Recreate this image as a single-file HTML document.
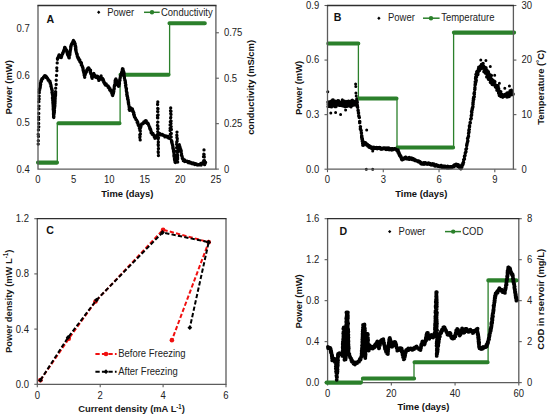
<!DOCTYPE html>
<html><head><meta charset="utf-8"><style>
html,body{margin:0;padding:0;background:#fff;}
svg{display:block;}
text{font-family:"Liberation Sans",sans-serif;}
</style></head><body>
<svg width="550" height="418" viewBox="0 0 550 418" font-family="Liberation Sans, sans-serif">
<rect width="550" height="418" fill="#fff"/>
<text transform="translate(29.70,172.50) scale(1,1.06)" font-size="9.5" text-anchor="end" fill="#222">0.4</text>
<text transform="translate(29.70,125.76) scale(1,1.06)" font-size="9.5" text-anchor="end" fill="#222">0.5</text>
<text transform="translate(29.70,79.01) scale(1,1.06)" font-size="9.5" text-anchor="end" fill="#222">0.6</text>
<text transform="translate(29.70,32.27) scale(1,1.06)" font-size="9.5" text-anchor="end" fill="#222">0.7</text>
<line x1="215.90" y1="169.10" x2="218.90" y2="169.10" stroke="#5c5c5c" stroke-width="1.1"/>
<text transform="translate(223.90,172.50) scale(1,1.06)" font-size="9.5" text-anchor="start" fill="#222">0</text>
<line x1="215.90" y1="123.66" x2="218.90" y2="123.66" stroke="#5c5c5c" stroke-width="1.1"/>
<text transform="translate(223.90,127.06) scale(1,1.06)" font-size="9.5" text-anchor="start" fill="#222">0.25</text>
<line x1="215.90" y1="78.21" x2="218.90" y2="78.21" stroke="#5c5c5c" stroke-width="1.1"/>
<text transform="translate(223.90,81.61) scale(1,1.06)" font-size="9.5" text-anchor="start" fill="#222">0.5</text>
<line x1="215.90" y1="32.77" x2="218.90" y2="32.77" stroke="#5c5c5c" stroke-width="1.1"/>
<text transform="translate(223.90,36.17) scale(1,1.06)" font-size="9.5" text-anchor="start" fill="#222">0.75</text>
<text transform="translate(38.00,183.30) scale(1,1.06)" font-size="9.5" text-anchor="middle" fill="#222">0</text>
<text transform="translate(73.58,183.30) scale(1,1.06)" font-size="9.5" text-anchor="middle" fill="#222">5</text>
<text transform="translate(109.16,183.30) scale(1,1.06)" font-size="9.5" text-anchor="middle" fill="#222">10</text>
<text transform="translate(144.74,183.30) scale(1,1.06)" font-size="9.5" text-anchor="middle" fill="#222">15</text>
<text transform="translate(180.32,183.30) scale(1,1.06)" font-size="9.5" text-anchor="middle" fill="#222">20</text>
<text transform="translate(215.90,183.30) scale(1,1.06)" font-size="9.5" text-anchor="middle" fill="#222">25</text>
<text transform="translate(127.30,196.60) scale(1,1.06)" font-size="9.4" text-anchor="middle" font-weight="bold" fill="#111">Time (days)</text>
<text transform="translate(12.30,87.30) rotate(-90) scale(1,1.06)" font-size="9.4" text-anchor="middle" font-weight="bold" fill="#111">Power (mW)</text>
<text transform="translate(253.80,87.40) rotate(-90) scale(1,1.06)" font-size="9.4" text-anchor="middle" font-weight="bold" fill="#111">conductivity (mS/cm)</text>
<text transform="translate(46.60,23.00) scale(1,1.06)" font-size="10.6" text-anchor="start" font-weight="bold" fill="#111">A</text>
<path d="M98.70 10.60L100.40 12.30L98.70 14.00L97.00 12.30Z" fill="#000"/>
<text transform="translate(107.20,15.70) scale(1,1.06)" font-size="9.5" text-anchor="start" fill="#222">Power</text>
<line x1="144.00" y1="12.30" x2="159.70" y2="12.30" stroke="#2b802b" stroke-width="1.5"/>
<path d="M152.0 12.3h0" stroke="#2b802b" stroke-width="4.40" stroke-linecap="round" fill="none"/>
<text transform="translate(161.00,15.70) scale(1,1.06)" font-size="9.5" text-anchor="start" fill="#222">Conductivity</text>
<path d="M57.3 162.6V123.3M120.1 123.3V74.7M169.6 74.7V23.3" stroke="#2b802b" stroke-width="1.3" fill="none"/>
<path d="M38 162.6H57M58.5 123.3H119.5M120.5 74.7H168.5M169.5 23.3H204.8" stroke="#2b802b" stroke-width="4.1" stroke-linecap="round" fill="none"/>
<path d="M38.2 144.1h0M38.3 140.7h0M38.4 136.4h0M38.2 134.3h0M38.4 129.9h0M38.8 126.8h0M38.7 123.4h0M38.7 119.4h0M38.7 117.1h0M38.8 113.4h0M38.9 108.8h0M39.0 106.1h0M38.9 101.7h0M39.2 99.0h0M39.2 96.1h0M39.3 92.7h0M39.2 92.0h0M39.3 91.8h0M39.6 90.0h0M39.3 89.7h0M39.8 89.6h0M39.7 88.9h0M39.7 88.6h0M39.7 88.5h0M39.9 88.5h0M40.0 88.1h0M40.2 87.7h0M40.2 86.0h0M40.3 86.8h0M40.4 85.7h0M40.4 84.7h0M40.6 84.8h0M40.4 83.5h0M40.7 84.5h0M40.4 83.8h0M40.7 82.3h0M40.7 82.8h0M41.0 81.2h0M41.0 80.7h0M41.1 80.7h0M41.4 81.4h0M41.5 81.0h0M41.7 79.2h0M42.0 78.7h0M42.1 78.9h0M42.6 78.1h0M42.5 78.9h0M42.9 78.6h0M43.4 77.3h0M43.5 77.2h0M43.8 76.9h0M44.0 76.6h0M44.5 76.0h0M44.5 76.0h0M44.7 75.6h0M45.4 76.3h0M45.6 75.8h0M45.9 77.1h0M46.1 77.5h0M46.7 77.0h0M47.1 77.9h0M47.4 78.1h0M47.6 79.1h0M47.6 78.4h0M48.2 80.3h0M48.2 79.8h0M48.7 80.0h0M48.8 80.4h0M49.1 81.2h0M49.4 81.2h0M49.9 81.1h0M50.0 82.6h0M50.0 82.2h0M50.4 82.7h0M50.2 83.4h0M50.5 83.3h0M50.5 84.2h0M50.8 84.8h0M50.9 84.8h0M50.8 86.0h0M51.2 86.1h0M51.0 86.0h0M51.2 86.6h0M51.5 88.1h0M51.3 87.6h0M51.7 88.6h0M51.8 88.6h0M51.6 89.0h0M52.0 89.4h0M51.9 90.1h0M52.0 90.5h0M52.3 90.6h0M51.9 92.3h0M52.3 92.8h0M52.2 93.2h0M52.4 92.5h0M52.4 94.0h0M52.4 93.9h0M52.3 94.1h0M52.3 94.1h0M52.5 94.9h0M52.6 95.0h0M52.7 96.5h0M52.8 97.3h0M52.8 97.2h0M52.4 98.0h0M52.5 97.7h0M52.8 98.5h0M52.7 99.6h0M52.9 99.1h0M52.7 100.4h0M52.9 100.8h0M52.8 100.3h0M53.0 101.7h0M52.8 102.2h0M53.2 102.6h0M53.2 101.8h0M53.2 103.7h0M52.9 103.2h0M53.1 104.0h0M53.2 104.4h0M53.4 104.1h0M53.0 104.8h0M53.1 105.2h0M53.5 106.9h0M53.1 106.8h0M53.2 107.0h0M53.3 107.9h0M53.4 108.0h0M53.2 108.4h0M53.2 109.2h0M53.5 109.4h0M53.2 109.5h0M53.4 110.7h0M53.6 110.8h0M53.6 111.6h0M53.5 111.7h0M53.5 112.7h0M53.5 113.1h0M53.5 112.9h0M53.6 114.1h0M53.4 114.1h0M53.6 115.3h0M53.8 114.9h0M53.8 116.1h0M53.6 116.0h0M53.5 117.0h0M53.8 117.6h0M53.9 116.8h0M53.9 116.2h0M53.6 115.8h0M53.6 114.6h0M54.1 114.0h0M53.8 113.7h0M54.2 113.3h0M53.8 113.9h0M53.9 113.5h0M54.2 113.0h0M54.4 112.2h0M54.4 110.9h0M54.4 111.2h0M54.4 110.1h0M54.5 110.9h0M54.2 109.5h0M54.5 109.9h0M54.4 108.4h0M54.4 108.6h0M54.7 107.8h0M54.6 107.4h0M54.6 107.0h0M54.5 106.6h0M54.9 106.0h0M54.9 105.2h0M54.9 105.7h0M54.9 104.8h0M54.8 104.6h0M55.0 103.3h0M54.7 103.8h0M55.1 103.0h0M54.9 102.9h0M54.8 101.7h0M54.9 101.7h0M54.9 100.7h0M55.1 101.4h0M55.0 100.6h0M55.1 100.3h0M55.2 98.9h0M55.0 98.1h0M55.2 98.2h0M55.1 97.7h0M55.2 97.9h0M55.1 97.8h0M55.3 96.7h0M55.3 96.6h0M55.5 95.7h0M55.4 95.6h0M55.6 94.6h0M55.6 95.0h0M55.5 93.4h0M55.4 93.7h0M55.6 93.6h0M55.7 92.0h0M55.5 91.6h0M55.7 88.2h0M56.2 84.4h0M56.2 80.2h0M56.5 75.4h0M56.9 70.7h0M56.8 67.8h0M57.2 62.9h0M57.5 59.3h0M57.4 58.3h0M57.8 58.1h0M57.9 57.9h0M58.4 57.1h0M58.4 56.3h0M58.4 56.7h0M58.5 56.7h0M59.0 55.0h0M59.2 55.0h0M59.4 56.0h0M59.5 56.2h0M59.9 56.8h0M60.0 57.0h0M60.7 57.3h0M60.7 56.7h0M61.0 57.5h0M61.3 57.5h0M61.4 56.3h0M61.6 56.6h0M61.6 56.6h0M62.0 54.9h0M62.3 54.5h0M62.2 55.0h0M62.5 54.3h0M62.7 53.7h0M62.7 52.8h0M62.8 53.2h0M63.3 52.5h0M63.4 51.8h0M63.4 51.4h0M63.8 50.4h0M63.8 50.3h0M64.1 50.0h0M64.1 49.6h0M64.4 49.8h0M64.4 49.5h0M64.5 48.1h0M64.6 47.4h0M65.1 48.0h0M65.0 47.5h0M65.3 48.8h0M65.7 49.3h0M65.8 48.7h0M65.9 49.2h0M66.1 50.2h0M66.1 50.1h0M66.6 50.2h0M66.8 52.0h0M67.0 51.6h0M67.0 52.3h0M67.2 53.4h0M67.4 52.7h0M67.7 53.4h0M67.7 54.3h0M67.6 54.7h0M68.0 54.7h0M68.1 55.1h0M68.1 55.6h0M68.2 56.0h0M68.7 56.3h0M68.8 57.6h0M69.1 56.7h0M69.2 57.9h0M69.0 57.0h0M69.1 56.1h0M69.3 57.0h0M69.3 56.5h0M69.6 54.9h0M69.7 55.2h0M69.8 54.9h0M69.8 53.9h0M69.9 54.4h0M70.0 53.1h0M70.1 52.8h0M69.8 51.6h0M69.9 51.4h0M70.0 51.4h0M70.3 51.1h0M70.3 50.8h0M70.3 50.1h0M70.6 49.5h0M70.4 49.9h0M70.7 48.6h0M70.7 48.4h0M70.8 47.4h0M70.6 47.0h0M71.1 46.4h0M71.0 46.1h0M71.0 45.6h0M71.3 45.2h0M71.3 44.6h0M71.6 44.8h0M71.7 43.7h0M72.1 43.9h0M72.4 42.9h0M72.5 43.0h0M72.5 43.5h0M72.8 41.7h0M73.2 41.4h0M73.5 41.3h0M73.4 40.4h0M73.9 41.2h0M74.2 41.9h0M74.5 42.1h0M74.3 42.4h0M74.8 43.4h0M74.8 43.0h0M75.2 44.9h0M75.2 43.8h0M75.0 44.3h0M75.1 44.7h0M75.1 46.1h0M75.6 45.9h0M75.7 46.8h0M75.6 47.9h0M75.8 47.0h0M75.5 48.3h0M75.9 47.9h0M75.6 49.6h0M75.6 49.3h0M75.7 50.2h0M76.1 49.9h0M76.0 51.2h0M76.2 51.4h0M76.2 51.5h0M76.1 51.8h0M76.4 52.6h0M76.3 52.5h0M76.6 53.7h0M76.8 53.7h0M76.8 53.8h0M77.1 54.0h0M77.1 55.6h0M77.3 55.0h0M77.3 56.6h0M77.6 57.1h0M77.9 56.8h0M78.0 57.7h0M77.9 57.6h0M77.9 58.0h0M78.6 58.0h0M78.7 58.4h0M78.7 59.6h0M79.1 59.1h0M79.3 60.4h0M79.8 59.8h0M79.9 61.7h0M80.1 61.5h0M80.4 62.3h0M80.7 62.8h0M80.9 62.3h0M81.0 62.5h0M81.5 63.0h0M81.3 64.9h0M81.6 65.2h0M81.8 64.9h0M82.0 66.0h0M82.3 66.2h0M82.5 67.0h0M82.4 67.0h0M82.6 66.7h0M82.9 68.0h0M83.0 67.8h0M82.9 68.7h0M83.1 68.5h0M83.1 69.7h0M83.1 70.2h0M83.5 70.5h0M83.6 71.3h0M83.4 71.3h0M83.9 71.8h0M83.7 71.8h0M83.7 72.4h0M84.1 73.8h0M84.2 74.6h0M84.1 75.0h0M84.2 74.6h0M84.5 75.9h0M84.5 75.7h0M84.5 76.0h0M84.7 77.3h0M84.6 76.8h0M84.6 75.1h0M85.1 74.9h0M85.1 75.0h0M85.0 74.7h0M85.3 73.8h0M85.5 73.8h0M85.8 72.7h0M85.7 72.2h0M86.0 71.4h0M86.1 72.1h0M86.5 72.0h0M86.9 71.4h0M86.8 69.8h0M87.0 69.8h0M87.3 69.5h0M87.5 69.6h0M87.7 68.5h0M88.2 68.6h0M88.3 68.0h0M88.8 68.0h0M88.9 69.1h0M89.4 68.9h0M89.5 69.3h0M90.2 70.0h0M90.4 71.0h0M90.6 70.2h0M90.3 70.7h0M90.5 71.6h0M90.4 72.4h0M90.6 72.5h0M90.8 73.7h0M90.9 73.3h0M90.9 74.0h0M91.3 74.8h0M91.5 75.5h0M91.3 74.9h0M91.7 76.3h0M91.7 76.9h0M91.8 76.4h0M91.7 76.4h0M92.1 78.3h0M92.3 78.0h0M92.3 78.3h0M92.6 77.4h0M92.6 76.8h0M92.6 75.8h0M93.0 76.7h0M93.1 75.3h0M93.2 74.9h0M93.6 74.5h0M93.8 73.5h0M93.8 74.5h0M94.1 75.4h0M94.6 75.9h0M94.8 74.8h0M95.1 76.0h0M95.3 75.9h0M95.7 77.3h0M95.9 76.7h0M96.5 76.3h0M97.3 76.8h0M97.4 76.1h0M97.7 76.5h0M97.7 78.0h0M97.9 77.5h0M98.4 79.0h0M98.3 78.6h0M98.6 78.6h0M98.8 80.4h0M98.9 79.7h0M99.2 79.0h0M99.6 79.6h0M100.0 79.0h0M100.3 77.6h0M100.2 78.7h0M100.4 77.1h0M100.8 76.7h0M101.1 75.9h0M101.2 77.8h0M101.4 78.1h0M101.7 78.7h0M102.2 78.6h0M102.2 78.1h0M102.7 78.7h0M102.7 80.2h0M103.3 79.4h0M103.5 80.6h0M103.5 80.4h0M103.7 82.2h0M103.9 81.3h0M104.0 81.7h0M104.4 83.4h0M104.5 82.7h0M105.1 84.5h0M105.3 83.7h0M105.4 85.0h0M105.9 84.9h0M106.2 84.0h0M106.6 85.4h0M107.2 85.3h0M107.3 85.6h0M107.6 86.0h0M108.0 85.8h0M108.2 87.4h0M108.6 86.6h0M108.9 88.0h0M108.8 87.5h0M109.1 87.5h0M109.7 88.4h0M109.9 88.3h0M109.7 89.9h0M110.3 90.5h0M110.5 90.1h0M110.8 89.8h0M111.0 90.7h0M111.0 91.4h0M111.3 91.7h0M111.5 91.8h0M111.6 92.7h0M112.1 93.7h0M112.2 94.0h0M112.1 94.6h0M112.3 93.7h0M112.5 95.1h0M112.6 95.4h0M112.7 95.5h0M112.9 94.3h0M113.0 94.5h0M113.4 93.5h0M113.2 93.2h0M113.2 92.4h0M113.6 92.5h0M113.4 92.2h0M113.6 92.0h0M113.7 90.3h0M113.9 90.9h0M113.9 90.4h0M114.1 89.2h0M114.0 89.0h0M114.1 88.3h0M114.3 88.7h0M114.3 87.0h0M114.2 87.0h0M114.5 86.1h0M114.3 86.0h0M114.5 85.1h0M114.7 86.0h0M114.8 85.3h0M115.0 85.0h0M115.1 83.9h0M115.0 83.0h0M115.2 82.9h0M115.1 83.3h0M115.1 81.7h0M115.4 81.9h0M115.1 80.6h0M115.3 80.1h0M115.6 79.9h0M115.4 79.8h0M115.6 79.4h0M115.8 79.4h0M115.9 78.9h0M116.4 80.3h0M116.1 80.3h0M116.7 81.6h0M116.6 80.5h0M117.0 81.5h0M117.4 82.6h0M117.3 82.4h0M117.6 83.6h0M117.6 83.3h0M117.7 84.1h0M117.8 85.1h0M118.2 85.0h0M118.2 84.9h0M118.5 86.3h0M118.7 85.9h0M119.0 86.0h0M118.9 84.8h0M118.9 85.5h0M118.9 84.5h0M119.2 83.7h0M119.3 84.2h0M119.5 83.4h0M119.2 81.9h0M119.4 81.8h0M119.4 82.3h0M119.5 81.8h0M119.9 80.2h0M120.0 80.2h0M119.7 79.4h0M119.7 79.4h0M120.0 79.6h0M120.3 77.8h0M120.2 77.9h0M120.2 77.2h0M120.3 77.5h0M120.5 76.1h0M120.5 76.2h0M120.8 75.4h0M121.0 74.9h0M121.1 75.1h0M121.0 74.9h0M121.2 74.1h0M121.4 73.8h0M121.5 72.4h0M121.8 73.2h0M121.7 72.3h0M121.8 72.4h0M122.1 70.9h0M122.3 71.6h0M122.1 71.2h0M122.3 69.4h0M122.6 69.2h0M122.7 69.2h0M122.5 68.6h0M123.0 69.0h0M123.0 70.1h0M123.0 69.9h0M123.2 70.9h0M123.2 70.1h0M123.6 71.3h0M123.5 72.3h0M123.9 72.2h0M124.0 73.1h0M124.0 72.7h0M123.7 73.8h0M124.1 73.7h0M124.0 74.5h0M124.0 75.2h0M124.2 75.2h0M124.0 75.9h0M124.2 76.7h0M124.2 76.6h0M124.3 77.1h0M124.5 77.1h0M124.4 78.1h0M124.5 78.6h0M124.5 78.5h0M124.8 80.2h0M125.0 80.0h0M124.9 79.8h0M124.9 80.6h0M125.3 80.8h0M125.4 81.8h0M125.2 81.9h0M125.5 82.2h0M125.4 83.2h0M125.3 83.2h0M125.8 84.6h0M125.7 85.2h0M125.5 85.3h0M125.9 85.0h0M125.8 86.7h0M125.8 86.8h0M125.8 87.1h0M125.9 87.3h0M126.1 88.3h0M126.3 88.2h0M126.3 88.5h0M126.5 88.7h0M126.4 89.7h0M126.4 89.3h0M126.3 90.7h0M126.4 91.3h0M126.6 92.1h0M126.8 92.2h0M126.6 91.5h0M126.8 93.1h0M127.0 92.7h0M126.7 94.4h0M127.0 94.1h0M127.1 94.0h0M127.0 95.3h0M127.1 94.9h0M127.0 96.1h0M127.4 95.8h0M127.1 96.1h0M127.6 97.0h0M127.5 98.5h0M127.6 97.7h0M127.8 97.8h0M127.6 99.3h0M127.7 98.7h0M127.9 99.6h0M128.2 99.7h0M128.2 100.6h0M128.3 101.1h0M128.3 101.4h0M128.2 102.0h0M128.6 102.3h0M128.4 102.9h0M128.4 103.2h0M128.7 104.0h0M128.7 104.1h0M128.5 104.1h0M128.8 104.8h0M128.9 105.4h0M129.1 106.4h0M129.1 107.1h0M129.1 107.1h0M129.1 107.0h0M129.4 108.1h0M129.1 109.3h0M129.4 109.3h0M129.4 108.9h0M129.7 109.5h0M129.7 110.4h0M129.9 109.2h0M130.4 108.4h0M130.9 108.3h0M130.8 108.0h0M131.1 108.6h0M131.9 109.1h0M131.9 109.0h0M132.4 109.0h0M132.5 109.1h0M132.6 110.1h0M132.6 111.1h0M132.7 111.6h0M132.9 110.6h0M133.3 111.8h0M133.4 112.2h0M133.5 112.0h0M133.6 113.2h0M133.9 112.8h0M133.6 114.4h0M134.1 114.4h0M134.1 115.1h0M134.1 115.4h0M134.4 115.1h0M134.4 116.7h0M134.6 116.7h0M134.8 117.0h0M135.1 118.1h0M135.5 118.1h0M135.3 118.3h0M135.4 118.6h0M135.9 119.6h0M136.0 119.3h0M136.2 119.7h0M136.7 120.2h0M137.2 121.1h0M137.1 121.3h0M137.1 122.3h0M137.7 122.1h0M137.8 122.4h0M137.8 122.8h0M137.9 123.8h0M138.3 124.5h0M138.2 125.0h0M138.6 124.8h0M138.7 125.3h0M138.7 125.7h0M139.1 126.6h0M139.4 126.2h0M139.5 127.6h0M139.6 128.3h0M139.4 128.4h0M139.9 130.4h0M139.8 134.7h0M139.8 137.6h0M140.2 139.9h0M140.0 136.5h0M140.4 133.9h0M140.3 130.9h0M140.7 127.6h0M140.4 128.2h0M140.6 126.8h0M141.0 126.2h0M140.6 126.6h0M140.8 125.1h0M141.2 124.6h0M141.6 124.4h0M141.7 123.8h0M142.2 124.0h0M142.6 123.6h0M142.8 123.8h0M143.5 123.3h0M143.8 121.9h0M143.8 121.8h0M144.1 122.7h0M144.8 122.3h0M145.1 120.9h0M145.6 120.7h0M146.3 120.9h0M146.3 122.4h0M146.6 122.7h0M146.9 122.6h0M147.1 123.4h0M147.6 122.9h0M147.9 123.7h0M147.9 123.4h0M148.3 123.7h0M148.6 124.6h0M148.5 125.0h0M148.7 125.5h0M149.1 126.1h0M149.2 126.3h0M149.5 127.5h0M149.6 127.9h0M149.8 127.3h0M149.9 128.9h0M150.2 128.6h0M150.4 129.8h0M150.5 129.5h0M150.7 129.4h0M150.9 130.5h0M151.0 130.9h0M151.1 131.8h0M151.1 132.7h0M151.2 132.9h0M151.3 133.2h0M151.5 132.5h0M152.0 134.0h0M152.5 134.4h0M152.9 133.3h0M153.0 133.7h0M153.5 134.6h0M153.9 135.4h0M154.3 135.5h0M154.4 135.7h0M154.2 136.8h0M154.4 135.9h0M154.9 136.7h0M154.9 136.8h0M154.9 138.3h0M155.1 137.6h0M155.8 136.8h0M156.0 137.3h0M156.3 136.9h0M156.7 135.3h0M156.7 135.8h0M157.4 134.9h0M157.5 134.4h0M157.7 131.6h0M157.6 128.6h0M157.4 125.3h0M157.7 122.2h0M157.5 117.8h0M157.5 115.5h0M157.6 111.4h0M157.7 108.5h0M157.6 104.6h0M157.8 101.9h0M157.6 104.2h0M158.0 108.7h0M157.9 111.6h0M158.1 115.0h0M157.8 117.9h0M157.9 122.1h0M157.9 126.1h0M158.1 128.7h0M158.1 132.3h0M158.1 135.6h0M158.1 139.0h0M158.3 141.9h0M158.3 145.5h0M158.4 148.5h0M158.3 152.5h0M158.4 155.5h0M158.2 151.7h0M158.4 148.8h0M158.2 144.5h0M158.4 142.1h0M158.5 137.8h0M158.5 134.3h0M159.2 134.4h0M159.3 134.2h0M160.1 133.7h0M160.7 134.3h0M160.9 134.9h0M161.6 134.9h0M162.2 135.0h0M162.4 134.5h0M162.9 135.2h0M163.3 135.4h0M163.5 135.2h0M164.0 135.5h0M164.7 136.5h0M164.9 136.9h0M165.6 136.0h0M166.1 136.3h0M166.7 136.2h0M166.9 136.5h0M167.7 137.4h0M168.0 136.4h0M168.5 137.6h0M168.8 138.2h0M169.7 138.4h0M170.1 138.2h0M170.3 134.2h0M170.1 130.6h0M170.1 128.3h0M170.1 124.9h0M170.3 121.7h0M170.6 118.0h0M170.7 113.6h0M170.5 110.8h0M170.7 107.9h0M171.0 111.2h0M171.0 114.4h0M170.8 117.3h0M171.1 121.1h0M171.0 123.6h0M171.2 126.6h0M171.4 129.5h0M171.3 133.5h0M171.2 136.9h0M171.4 140.7h0M171.7 140.6h0M171.8 141.5h0M171.6 141.9h0M172.0 142.6h0M172.1 142.1h0M171.9 143.0h0M172.0 143.6h0M172.3 144.2h0M172.3 143.8h0M172.7 144.8h0M172.5 145.1h0M172.6 145.7h0M172.7 145.6h0M173.0 147.0h0M173.0 146.5h0M172.8 147.6h0M173.2 148.0h0M172.9 148.5h0M173.2 148.4h0M173.3 149.0h0M173.4 149.9h0M173.6 149.4h0M173.5 151.2h0M173.6 151.0h0M173.7 150.6h0M173.8 152.0h0M173.7 152.0h0M173.8 152.1h0M173.8 152.8h0M174.1 154.1h0M174.0 154.5h0M174.0 154.6h0M173.9 155.6h0M174.3 155.9h0M174.0 156.4h0M174.1 156.5h0M174.3 156.1h0M174.4 157.9h0M174.5 157.4h0M174.7 157.9h0M174.8 158.4h0M174.5 159.8h0M174.5 159.1h0M174.9 159.3h0M174.9 161.0h0M175.0 160.6h0M175.1 161.8h0M175.1 162.0h0M175.0 162.1h0M175.4 162.5h0M175.1 160.8h0M175.3 161.3h0M175.4 159.9h0M175.8 159.4h0M176.0 159.5h0M176.1 159.6h0M175.8 159.1h0M176.1 157.8h0M176.0 155.2h0M176.4 151.2h0M176.6 147.7h0M176.6 144.2h0M176.7 142.1h0M176.9 137.6h0M176.8 135.1h0M177.0 132.1h0M176.9 135.5h0M177.3 138.8h0M177.2 141.0h0M177.2 145.3h0M177.2 147.8h0M177.6 152.4h0M177.7 155.8h0M177.6 159.2h0M177.7 162.1h0M177.7 158.0h0M177.6 155.2h0M177.9 151.8h0M178.3 149.3h0M178.3 146.6h0M178.5 146.1h0M179.3 144.6h0M179.1 145.9h0M179.7 146.3h0M179.7 146.4h0M179.8 146.3h0M180.1 147.5h0M180.2 148.3h0M180.4 148.8h0M180.5 149.0h0M180.9 149.7h0M180.8 149.7h0M180.8 150.4h0M180.7 150.9h0M181.0 150.1h0M181.3 151.0h0M180.9 151.3h0M181.0 151.9h0M181.4 153.4h0M181.4 153.7h0M181.6 153.9h0M181.4 153.7h0M181.4 154.6h0M181.5 155.4h0M181.6 155.6h0M181.9 156.1h0M181.8 155.9h0M182.2 156.3h0M182.3 157.9h0M182.3 158.3h0M182.5 158.7h0M182.6 158.9h0M182.8 158.4h0M182.9 159.5h0M183.0 160.0h0M183.3 160.7h0M183.7 159.8h0M184.1 160.7h0M184.6 159.8h0M184.7 161.5h0M185.3 161.2h0M185.8 160.9h0M186.2 161.3h0M186.9 161.4h0M187.2 161.2h0M187.6 161.8h0M188.0 162.4h0M188.1 162.7h0M188.8 161.7h0M189.2 161.6h0M189.5 162.9h0M190.2 163.1h0M190.4 162.1h0M190.9 162.9h0M191.5 162.7h0M192.0 163.3h0M192.2 163.8h0M192.6 163.7h0M193.1 163.0h0M193.6 163.8h0M194.1 163.7h0M194.7 164.5h0M194.8 163.3h0M195.6 164.1h0M195.7 163.8h0M196.4 163.9h0M196.7 164.8h0M197.1 164.8h0M197.9 165.0h0M198.3 164.7h0M198.6 164.7h0M199.3 164.5h0M199.7 164.8h0M200.1 164.6h0M200.9 163.5h0M201.1 165.0h0M201.5 164.5h0M202.2 163.0h0M202.8 162.7h0M203.4 162.9h0M203.7 160.7h0M203.5 156.7h0M203.8 154.2h0M204.0 149.9h0M204.1 154.5h0M204.3 157.0h0M204.5 160.7h0M204.6 164.7h0M204.8 163.6h0M205.3 162.8h0M205.2 163.4h0M205.6 162.5h0" stroke="#000" stroke-width="3.30" stroke-linecap="round" fill="none"/>
<path d="M38 5.5V169.1H215.9V5.5" fill="none" stroke="#5c5c5c" stroke-width="1.3"/>
<path d="M37.4 5.5H216.5" fill="none" stroke="#2e2e2e" stroke-width="1.3"/>
<line x1="324.50" y1="169.20" x2="327.50" y2="169.20" stroke="#5c5c5c" stroke-width="1.1"/>
<text transform="translate(319.20,172.60) scale(1,1.06)" font-size="9.5" text-anchor="end" fill="#222">0.0</text>
<line x1="324.50" y1="114.63" x2="327.50" y2="114.63" stroke="#5c5c5c" stroke-width="1.1"/>
<text transform="translate(319.20,118.03) scale(1,1.06)" font-size="9.5" text-anchor="end" fill="#222">0.3</text>
<line x1="324.50" y1="60.07" x2="327.50" y2="60.07" stroke="#5c5c5c" stroke-width="1.1"/>
<text transform="translate(319.20,63.47) scale(1,1.06)" font-size="9.5" text-anchor="end" fill="#222">0.6</text>
<line x1="324.50" y1="5.50" x2="327.50" y2="5.50" stroke="#5c5c5c" stroke-width="1.1"/>
<text transform="translate(319.20,8.90) scale(1,1.06)" font-size="9.5" text-anchor="end" fill="#222">0.9</text>
<line x1="513.40" y1="169.20" x2="516.40" y2="169.20" stroke="#5c5c5c" stroke-width="1.1"/>
<text transform="translate(521.40,172.60) scale(1,1.06)" font-size="9.5" text-anchor="start" fill="#222">0</text>
<line x1="513.40" y1="114.63" x2="516.40" y2="114.63" stroke="#5c5c5c" stroke-width="1.1"/>
<text transform="translate(521.40,118.03) scale(1,1.06)" font-size="9.5" text-anchor="start" fill="#222">10</text>
<line x1="513.40" y1="60.07" x2="516.40" y2="60.07" stroke="#5c5c5c" stroke-width="1.1"/>
<text transform="translate(521.40,63.47) scale(1,1.06)" font-size="9.5" text-anchor="start" fill="#222">20</text>
<line x1="513.40" y1="5.50" x2="516.40" y2="5.50" stroke="#5c5c5c" stroke-width="1.1"/>
<text transform="translate(521.40,8.90) scale(1,1.06)" font-size="9.5" text-anchor="start" fill="#222">30</text>
<line x1="327.50" y1="169.20" x2="327.50" y2="172.20" stroke="#5c5c5c" stroke-width="1.1"/>
<text transform="translate(327.50,183.40) scale(1,1.06)" font-size="9.5" text-anchor="middle" fill="#222">0</text>
<line x1="383.27" y1="169.20" x2="383.27" y2="172.20" stroke="#5c5c5c" stroke-width="1.1"/>
<text transform="translate(383.27,183.40) scale(1,1.06)" font-size="9.5" text-anchor="middle" fill="#222">3</text>
<line x1="439.04" y1="169.20" x2="439.04" y2="172.20" stroke="#5c5c5c" stroke-width="1.1"/>
<text transform="translate(439.04,183.40) scale(1,1.06)" font-size="9.5" text-anchor="middle" fill="#222">6</text>
<line x1="494.81" y1="169.20" x2="494.81" y2="172.20" stroke="#5c5c5c" stroke-width="1.1"/>
<text transform="translate(494.81,183.40) scale(1,1.06)" font-size="9.5" text-anchor="middle" fill="#222">9</text>
<text transform="translate(421.30,196.60) scale(1,1.06)" font-size="9.4" text-anchor="middle" font-weight="bold" fill="#111">Time (days)</text>
<text transform="translate(301.80,87.95) rotate(-90) scale(1,1.06)" font-size="9.4" text-anchor="middle" font-weight="bold" fill="#111">Power (mW)</text>
<text transform="translate(544.20,87.30) rotate(-90) scale(1,1.06)" font-size="9.4" text-anchor="middle" font-weight="bold" fill="#111">Temperature (&#730;C)</text>
<text transform="translate(333.80,21.20) scale(1,1.06)" font-size="10.6" text-anchor="start" font-weight="bold" fill="#111">B</text>
<path d="M378.90 16.50L380.60 18.20L378.90 19.90L377.20 18.20Z" fill="#000"/>
<text transform="translate(388.00,21.00) scale(1,1.06)" font-size="9.5" text-anchor="start" fill="#222">Power</text>
<line x1="423.00" y1="18.20" x2="439.60" y2="18.20" stroke="#2b802b" stroke-width="1.5"/>
<path d="M431.0 18.2h0" stroke="#2b802b" stroke-width="4.40" stroke-linecap="round" fill="none"/>
<text transform="translate(441.20,21.00) scale(1,1.06)" font-size="9.5" text-anchor="start" fill="#222">Temperature</text>
<path d="M358.4 43.5V98.5M397 98.5V147.5M453.6 147.5V32.6" stroke="#2b802b" stroke-width="1.3" fill="none"/>
<path d="M328.3 43.5H358.3M358.7 98.5H396.5M397.5 147.5H453.1M453.9 32.6H514.1" stroke="#2b802b" stroke-width="4.1" stroke-linecap="round" fill="none"/>
<path d="M327.8 101.9h0M327.9 106.4h0M328.0 104.0h0M328.1 101.9h0M328.3 102.9h0M328.4 103.9h0M328.5 104.5h0M328.6 102.1h0M328.7 102.8h0M328.8 104.1h0M328.9 103.8h0M329.1 106.5h0M329.2 104.7h0M329.3 104.8h0M329.4 101.9h0M329.5 101.9h0M329.6 101.7h0M329.8 103.3h0M329.9 104.4h0M330.0 106.1h0M330.1 104.9h0M330.2 102.1h0M330.3 103.3h0M330.4 106.8h0M330.6 103.6h0M330.7 104.2h0M330.8 101.2h0M330.9 101.2h0M331.0 102.6h0M331.1 103.0h0M331.2 104.2h0M331.4 103.2h0M331.5 100.7h0M331.6 106.9h0M331.7 104.0h0M331.8 100.7h0M331.9 106.1h0M332.1 104.7h0M332.2 103.1h0M332.3 103.4h0M332.4 104.2h0M332.5 99.7h0M332.6 105.0h0M332.7 103.8h0M332.9 104.5h0M333.0 102.5h0M333.1 102.4h0M333.2 105.9h0M333.3 99.7h0M333.4 105.3h0M333.6 105.3h0M333.7 100.8h0M333.8 103.0h0M333.9 102.3h0M334.0 102.5h0M334.1 101.4h0M334.2 101.2h0M334.4 103.5h0M334.5 102.9h0M334.6 104.3h0M334.7 104.6h0M334.8 102.5h0M334.9 106.7h0M335.0 106.0h0M335.2 100.9h0M335.3 103.1h0M335.4 102.8h0M335.5 104.1h0M335.6 101.8h0M335.7 105.9h0M335.9 102.8h0M336.0 106.8h0M336.1 102.2h0M336.2 106.5h0M336.3 104.0h0M336.4 104.9h0M336.5 103.9h0M336.7 104.0h0M336.8 101.8h0M336.9 103.1h0M337.0 102.2h0M337.1 103.0h0M337.2 102.8h0M337.3 104.6h0M337.5 103.8h0M337.6 102.9h0M337.7 100.6h0M337.8 104.9h0M337.9 102.2h0M338.0 102.8h0M338.2 104.1h0M338.3 103.3h0M338.4 103.5h0M338.5 103.5h0M338.6 100.4h0M338.7 104.5h0M338.8 103.0h0M339.0 104.6h0M339.1 103.5h0M339.2 102.7h0M339.3 105.6h0M339.4 103.6h0M339.5 105.0h0M339.6 104.3h0M339.8 104.6h0M339.9 105.0h0M340.0 104.3h0M340.1 101.9h0M340.2 103.0h0M340.3 105.5h0M340.4 103.1h0M340.6 102.8h0M340.7 103.4h0M340.8 104.9h0M340.9 102.0h0M341.0 103.3h0M341.1 102.6h0M341.3 102.3h0M341.4 104.5h0M341.5 102.5h0M341.6 103.4h0M341.7 103.9h0M341.8 104.1h0M341.9 104.1h0M342.1 104.5h0M342.2 102.2h0M342.3 99.7h0M342.4 104.7h0M342.5 106.0h0M342.6 102.7h0M342.8 103.4h0M342.9 104.7h0M343.0 102.1h0M343.1 103.3h0M343.2 102.7h0M343.3 104.2h0M343.4 103.4h0M343.6 106.0h0M343.7 101.9h0M343.8 102.2h0M343.9 101.1h0M344.0 103.7h0M344.1 103.2h0M344.2 103.0h0M344.4 104.3h0M344.5 101.8h0M344.6 101.1h0M344.7 106.7h0M344.8 103.4h0M344.9 101.8h0M345.1 105.0h0M345.2 103.6h0M345.3 101.9h0M345.4 103.9h0M345.5 105.0h0M345.6 104.5h0M345.7 103.2h0M345.9 106.0h0M346.0 102.0h0M346.1 103.1h0M346.2 104.1h0M346.3 101.8h0M346.4 104.4h0M346.5 104.0h0M346.7 104.9h0M346.8 103.9h0M346.9 106.5h0M347.0 101.2h0M347.1 102.8h0M347.2 102.5h0M347.4 103.4h0M347.5 104.4h0M347.6 101.7h0M347.7 104.9h0M347.8 105.1h0M347.9 103.6h0M348.0 101.2h0M348.2 104.4h0M348.3 104.0h0M348.4 101.9h0M348.5 102.3h0M348.6 102.5h0M348.7 101.1h0M348.8 103.9h0M349.0 105.1h0M349.1 103.9h0M349.2 102.3h0M349.3 103.3h0M349.4 103.3h0M349.5 106.3h0M349.7 102.7h0M349.8 104.1h0M349.9 102.9h0M350.0 105.2h0M350.1 102.1h0M350.2 104.2h0M350.3 102.8h0M350.5 104.3h0M350.6 101.1h0M350.7 103.2h0M350.8 105.1h0M350.9 104.4h0M351.0 101.7h0M351.1 106.9h0M351.3 104.1h0M351.4 103.0h0M351.5 102.8h0M351.6 101.9h0M351.7 105.8h0M351.8 105.4h0M351.9 105.7h0M352.1 101.8h0M352.2 100.4h0M352.3 100.0h0M352.4 101.0h0M352.5 102.5h0M352.6 101.5h0M352.8 100.7h0M352.9 104.1h0M353.0 102.2h0M353.1 103.8h0M353.2 105.2h0M353.3 102.0h0M353.4 102.5h0M353.6 105.3h0M353.7 100.9h0M353.8 102.5h0M353.9 101.5h0M354.0 102.9h0M354.1 102.3h0M354.2 103.6h0M354.4 102.5h0M354.5 105.1h0M354.6 102.0h0M354.7 103.1h0M354.8 104.3h0M354.9 101.9h0M355.1 102.3h0M355.2 103.1h0M355.3 102.6h0M355.4 104.5h0M355.5 102.1h0M355.6 100.9h0M355.7 104.3h0M355.9 101.9h0M356.0 102.2h0M356.1 102.8h0M356.2 105.0h0M356.3 104.5h0M356.4 103.5h0M356.6 103.7h0M356.7 102.6h0M356.8 106.0h0M356.9 104.9h0M357.0 101.9h0M357.1 104.7h0M357.2 101.1h0M357.4 102.0h0M357.5 102.2h0M357.6 105.8h0M327.8 91.8h0M330.8 113.0h0M335.6 112.4h0M340.6 114.4h0M345.6 110.0h0M355.6 84.0h0M355.8 86.5h0M355.9 93.0h0M356.2 96.0h0M356.6 99.0h0M366.7 130.0h0M372.7 151.0h0M366.3 169.3h0M372.7 169.3h0M480.8 60.1h0M485.9 60.5h0M490.3 66.5h0M494.7 75.2h0M499.4 83.3h0M504.8 88.3h0M509.4 85.9h0" stroke="#000" stroke-width="3.00" stroke-linecap="round" fill="none"/>
<path d="M356.9 104.6h0M357.6 107.2h0M358.1 110.4h0M358.5 112.9h0M358.8 115.9h0M359.3 117.5h0M359.7 121.5h0M359.7 122.8h0M360.4 126.8h0M360.4 129.0h0M361.1 130.6h0M361.4 133.1h0M361.8 136.0h0M361.7 135.8h0M361.8 137.3h0M361.7 136.5h0M361.7 137.4h0M362.3 138.7h0M362.3 139.1h0M362.0 138.9h0M362.5 140.2h0M362.6 140.6h0M362.5 141.0h0M362.7 140.8h0M362.3 141.1h0M362.4 141.4h0M362.8 141.9h0M362.7 142.0h0M362.8 143.2h0M363.0 144.4h0M362.8 143.7h0M362.9 145.3h0M363.3 145.3h0M363.7 143.8h0M364.1 144.0h0M364.3 143.8h0M364.7 143.3h0M364.8 142.9h0M365.4 142.9h0M365.4 143.1h0M366.0 143.4h0M366.3 144.6h0M366.7 144.9h0M366.9 145.3h0M367.5 145.1h0M367.4 144.6h0M368.1 146.3h0M368.4 146.0h0M368.8 145.5h0M369.2 147.3h0M369.5 146.9h0M370.3 147.2h0M370.4 146.6h0M371.1 148.1h0M371.6 147.4h0M372.0 148.3h0M372.2 148.5h0M372.7 147.5h0M372.9 148.4h0M373.8 147.2h0M373.9 147.7h0M374.4 148.5h0M374.8 148.3h0M375.5 147.8h0M376.1 148.0h0M376.4 148.4h0M376.7 147.6h0M377.5 148.6h0M377.7 148.2h0M378.2 147.8h0M378.4 148.3h0M379.3 147.5h0M379.8 148.0h0M380.2 148.8h0M380.3 147.8h0M381.1 149.2h0M381.5 148.5h0M381.8 148.9h0M382.4 149.0h0M382.6 149.0h0M383.4 148.6h0M383.3 148.0h0M384.1 148.4h0M384.7 148.8h0M385.1 148.0h0M385.4 149.0h0M386.1 149.4h0M386.2 148.7h0M387.0 148.0h0M387.0 148.2h0M387.8 148.5h0M388.2 149.4h0M388.7 148.0h0M389.1 149.4h0M389.6 149.6h0M390.1 149.2h0M390.6 149.1h0M390.7 148.7h0M391.6 148.8h0M391.8 149.9h0M392.4 149.8h0M392.8 149.3h0M393.0 148.9h0M393.5 149.5h0M394.2 148.8h0M394.7 148.9h0M395.1 148.8h0M395.6 149.1h0M396.3 149.6h0M396.7 149.8h0M396.9 150.5h0M397.4 150.0h0M397.8 151.3h0M398.0 150.1h0M398.0 152.2h0M398.4 151.6h0M398.2 151.9h0M398.7 152.2h0M399.0 152.8h0M399.1 154.0h0M399.0 154.1h0M399.4 154.1h0M399.5 155.2h0M400.0 155.0h0M399.8 155.8h0M400.3 156.2h0M400.7 156.1h0M400.8 156.9h0M400.8 157.3h0M401.2 157.6h0M401.6 159.1h0M402.0 158.1h0M401.9 159.8h0M402.2 158.1h0M402.6 159.6h0M403.3 158.5h0M403.5 159.2h0M404.5 158.7h0M404.8 158.4h0M405.0 157.5h0M405.4 157.4h0M405.9 157.3h0M406.2 158.8h0M407.1 158.8h0M407.3 158.2h0M407.9 158.9h0M408.2 158.4h0M408.8 159.1h0M409.2 157.6h0M409.6 159.3h0M410.0 158.9h0M410.4 158.3h0M411.2 158.1h0M411.5 159.0h0M412.0 159.4h0M412.7 158.6h0M413.1 159.6h0M413.4 159.5h0M413.8 159.9h0M414.3 159.2h0M414.8 160.1h0M415.1 160.6h0M415.4 160.1h0M416.0 160.3h0M416.3 160.6h0M416.6 160.5h0M417.3 160.9h0M417.9 161.6h0M418.0 161.6h0M418.6 161.0h0M418.7 162.0h0M419.2 161.2h0M419.6 161.5h0M420.0 161.9h0M420.5 162.3h0M421.0 163.7h0M421.5 163.0h0M421.7 163.9h0M422.2 163.3h0M422.3 164.0h0M423.1 163.2h0M423.5 162.7h0M424.0 164.2h0M424.6 162.8h0M424.9 164.0h0M425.1 163.7h0M425.5 163.0h0M425.9 163.1h0M426.8 163.7h0M427.2 164.3h0M427.4 164.1h0M428.2 163.8h0M428.4 163.0h0M428.9 163.5h0M429.2 164.1h0M429.9 163.5h0M430.0 164.0h0M430.8 164.4h0M431.2 164.9h0M431.7 164.2h0M432.1 164.7h0M432.4 163.9h0M432.8 165.0h0M433.5 164.3h0M433.8 164.0h0M434.3 164.8h0M434.8 165.6h0M434.9 165.9h0M435.4 166.0h0M436.3 164.8h0M436.3 164.8h0M437.1 166.0h0M437.6 166.1h0M437.7 166.2h0M438.1 165.5h0M438.6 166.2h0M439.0 166.1h0M439.6 166.6h0M440.0 166.0h0M440.5 166.2h0M441.0 165.6h0M441.2 165.6h0M441.7 167.2h0M442.3 166.9h0M442.9 167.3h0M443.0 166.3h0M443.6 166.4h0M444.1 166.2h0M444.4 167.4h0M444.8 166.4h0M445.5 166.5h0M446.1 167.3h0M446.6 167.1h0M446.8 166.7h0M447.1 167.9h0M447.6 166.4h0M448.5 167.2h0M448.7 167.9h0M449.3 166.8h0M449.5 167.5h0M450.2 166.7h0M450.5 167.3h0M450.8 167.8h0M451.6 166.7h0M452.0 167.5h0M452.2 166.9h0M453.0 166.8h0M453.3 166.1h0M453.9 166.7h0M454.0 165.3h0M454.3 165.0h0M454.8 165.1h0M455.1 165.1h0M455.4 164.8h0M456.0 164.3h0M456.4 165.6h0M456.9 165.3h0M457.0 164.6h0M457.3 165.5h0M457.8 165.5h0M458.2 164.8h0M458.1 166.4h0M458.8 166.1h0M458.7 165.8h0M459.4 167.4h0M459.5 167.6h0M460.2 166.6h0M460.5 168.6h0M461.0 168.7h0M461.2 168.5h0M461.1 168.4h0M461.6 167.3h0M461.4 166.4h0M461.7 167.3h0M461.9 166.8h0M461.9 165.3h0M462.1 164.9h0M462.6 164.6h0M462.5 164.8h0M462.7 164.7h0M463.0 164.2h0M463.0 163.0h0M463.1 163.6h0M463.5 162.4h0M463.7 159.8h0M464.4 159.0h0M464.5 156.4h0M465.0 155.6h0M465.3 153.1h0M465.9 151.7h0M466.0 149.2h0M466.5 148.6h0M466.7 145.6h0M466.9 144.2h0M467.4 142.5h0M467.8 140.9h0M467.6 138.6h0M468.0 137.8h0M468.5 136.3h0M468.6 133.4h0M469.0 132.0h0M468.9 130.2h0M469.3 129.3h0M469.5 126.8h0M469.5 125.7h0M470.2 123.1h0M470.2 122.5h0M470.7 119.3h0M471.2 118.4h0M471.3 115.7h0M471.6 114.9h0M471.6 114.9h0M471.8 112.4h0M471.6 111.5h0M471.7 111.7h0M472.1 110.0h0M472.2 109.0h0M472.4 108.4h0M472.5 107.7h0M472.9 106.7h0M473.0 104.4h0M473.0 104.6h0M473.0 103.1h0M473.1 102.6h0M473.3 100.8h0M473.7 99.3h0M473.4 98.9h0M473.7 97.3h0M473.8 97.5h0M474.2 96.8h0M474.3 94.2h0M474.2 93.9h0M474.1 93.5h0M474.4 92.5h0M474.8 89.6h0M474.9 87.9h0M475.1 85.1h0M475.4 83.2h0M475.4 83.9h0M475.9 81.7h0M475.3 81.8h0M475.6 78.8h0M476.2 80.2h0M475.8 78.1h0M476.5 77.1h0M476.0 74.5h0M475.7 77.3h0M476.9 73.8h0M476.8 73.5h0M477.1 73.9h0M477.2 74.2h0M476.5 74.0h0M477.5 71.3h0M476.8 71.9h0M477.8 74.6h0M477.6 73.7h0M478.1 70.7h0M477.9 72.8h0M478.1 71.0h0M478.6 69.0h0M478.4 70.2h0M478.7 70.6h0M478.4 69.3h0M478.8 67.2h0M479.4 70.6h0M479.3 67.8h0M479.4 67.8h0M479.8 66.7h0M481.0 66.9h0M480.3 68.1h0M480.4 66.4h0M481.5 68.5h0M481.5 64.6h0M483.0 63.6h0M482.3 66.9h0M483.6 66.3h0M482.6 66.2h0M483.1 65.6h0M484.3 68.2h0M484.3 67.1h0M484.5 71.2h0M484.0 71.8h0M484.3 70.7h0M485.8 69.5h0M486.1 69.3h0M485.4 73.1h0M485.9 67.8h0M485.2 71.3h0M485.8 68.6h0M486.9 70.6h0M487.3 71.2h0M486.1 71.9h0M487.5 75.4h0M487.2 71.5h0M487.4 71.9h0M487.2 70.7h0M486.8 76.9h0M488.4 72.9h0M488.3 71.9h0M488.9 75.9h0M489.0 75.1h0M488.6 77.9h0M488.6 73.5h0M488.5 79.2h0M489.0 74.1h0M489.8 74.8h0M489.8 79.3h0M489.6 77.3h0M491.2 80.5h0M491.3 75.5h0M491.7 79.2h0M490.4 82.3h0M490.6 82.6h0M490.6 77.1h0M491.7 80.8h0M492.2 82.5h0M491.5 82.2h0M492.2 84.0h0M493.0 82.6h0M492.3 84.4h0M492.9 80.2h0M493.4 84.2h0M493.5 82.5h0M494.3 81.4h0M493.6 82.7h0M495.0 84.8h0M494.3 85.0h0M495.8 85.6h0M494.8 81.7h0M496.6 86.3h0M495.5 86.9h0M496.4 86.5h0M496.2 87.1h0M496.5 85.6h0M496.7 88.2h0M497.9 85.7h0M496.7 85.9h0M498.1 86.9h0M497.0 90.2h0M498.0 85.9h0M498.7 88.9h0M499.1 91.3h0M499.2 91.9h0M498.6 91.9h0M499.0 91.3h0M498.7 91.5h0M498.7 93.3h0M499.0 91.9h0M500.4 93.8h0M500.7 91.8h0M499.4 95.5h0M500.1 94.8h0M500.5 93.0h0M500.9 93.9h0M501.5 94.4h0M500.8 94.5h0M500.9 96.4h0M501.2 94.3h0M502.1 94.5h0M502.8 97.1h0M502.1 95.6h0M503.2 96.1h0M503.5 95.2h0M503.8 96.5h0M504.7 95.3h0M505.0 94.6h0M504.7 94.7h0M506.0 94.0h0M505.5 95.7h0M506.6 96.5h0M506.1 95.0h0M507.4 93.6h0M507.0 96.9h0M507.2 93.0h0M507.9 96.7h0M508.5 94.4h0M509.1 96.4h0M508.6 92.7h0M509.5 94.6h0M509.3 93.3h0M510.3 91.2h0M510.2 90.9h0M511.4 90.4h0M510.6 93.1h0M511.1 92.6h0M511.5 94.6h0M512.0 92.4h0M511.8 93.2h0M512.8 94.5h0M513.0 94.0h0M513.0 94.3h0" stroke="#000" stroke-width="3.60" stroke-linecap="round" fill="none"/>
<path d="M327.5 5.5V169.2H513.4V5.5" fill="none" stroke="#5c5c5c" stroke-width="1.3"/>
<path d="M326.9 5.5H514.0" fill="none" stroke="#2e2e2e" stroke-width="1.3"/>
<line x1="34.30" y1="384.30" x2="37.30" y2="384.30" stroke="#5c5c5c" stroke-width="1.1"/>
<text transform="translate(29.00,387.70) scale(1,1.06)" font-size="9.5" text-anchor="end" fill="#222">0.0</text>
<line x1="34.30" y1="329.10" x2="37.30" y2="329.10" stroke="#5c5c5c" stroke-width="1.1"/>
<text transform="translate(29.00,332.50) scale(1,1.06)" font-size="9.5" text-anchor="end" fill="#222">0.4</text>
<line x1="34.30" y1="273.90" x2="37.30" y2="273.90" stroke="#5c5c5c" stroke-width="1.1"/>
<text transform="translate(29.00,277.30) scale(1,1.06)" font-size="9.5" text-anchor="end" fill="#222">0.8</text>
<line x1="34.30" y1="218.70" x2="37.30" y2="218.70" stroke="#5c5c5c" stroke-width="1.1"/>
<text transform="translate(29.00,222.10) scale(1,1.06)" font-size="9.5" text-anchor="end" fill="#222">1.2</text>
<line x1="37.30" y1="384.30" x2="37.30" y2="387.30" stroke="#5c5c5c" stroke-width="1.1"/>
<text transform="translate(37.30,398.50) scale(1,1.06)" font-size="9.5" text-anchor="middle" fill="#222">0</text>
<line x1="100.20" y1="384.30" x2="100.20" y2="387.30" stroke="#5c5c5c" stroke-width="1.1"/>
<text transform="translate(100.20,398.50) scale(1,1.06)" font-size="9.5" text-anchor="middle" fill="#222">2</text>
<line x1="163.10" y1="384.30" x2="163.10" y2="387.30" stroke="#5c5c5c" stroke-width="1.1"/>
<text transform="translate(163.10,398.50) scale(1,1.06)" font-size="9.5" text-anchor="middle" fill="#222">4</text>
<line x1="226.00" y1="384.30" x2="226.00" y2="387.30" stroke="#5c5c5c" stroke-width="1.1"/>
<text transform="translate(226.00,398.50) scale(1,1.06)" font-size="9.5" text-anchor="middle" fill="#222">6</text>
<text transform="translate(131.5,412.2) scale(1,1.06)" font-size="9.4" text-anchor="middle" font-weight="bold" fill="#1a1a1a">Current density (mA L<tspan font-size="6" dy="-3.5">-1</tspan><tspan dy="3.5">)</tspan></text>
<text transform="translate(11.8,301.4) rotate(-90) scale(1,1.06)" font-size="9.4" text-anchor="middle" font-weight="bold" fill="#1a1a1a">Power density (mW L<tspan font-size="6" dy="-3.5">-1</tspan><tspan dy="3.5">)</tspan></text>
<text transform="translate(46.20,234.00) scale(1,1.06)" font-size="10.6" text-anchor="start" font-weight="bold" fill="#111">C</text>
<polyline points="40.44,380.16 68.75,338.76 95.48,301.50 163.10,229.74 208.70,242.16 171.91,340.14" fill="none" stroke="#f01010" stroke-width="2" stroke-dasharray="4.3 2.2"/>
<circle cx="40.44" cy="380.16" r="2.3" fill="#f01010"/>
<circle cx="68.75" cy="338.76" r="2.3" fill="#f01010"/>
<circle cx="95.48" cy="301.50" r="2.3" fill="#f01010"/>
<circle cx="163.10" cy="229.74" r="2.3" fill="#f01010"/>
<circle cx="208.70" cy="242.16" r="2.3" fill="#f01010"/>
<circle cx="171.91" cy="340.14" r="2.3" fill="#f01010"/>
<polyline points="40.44,380.16 68.12,337.38 96.43,300.12 162.47,232.50 208.70,242.16 189.83,327.72" fill="none" stroke="#000" stroke-width="2" stroke-dasharray="4.3 2.2"/>
<path d="M40.44 377.76L42.84 380.16L40.44 382.56L38.04 380.16Z" fill="#000"/>
<path d="M68.12 334.98L70.52 337.38L68.12 339.78L65.72 337.38Z" fill="#000"/>
<path d="M96.43 297.72L98.83 300.12L96.43 302.52L94.03 300.12Z" fill="#000"/>
<path d="M162.47 230.10L164.87 232.50L162.47 234.90L160.07 232.50Z" fill="#000"/>
<path d="M208.70 239.76L211.10 242.16L208.70 244.56L206.30 242.16Z" fill="#000"/>
<path d="M189.83 325.32L192.23 327.72L189.83 330.12L187.43 327.72Z" fill="#000"/>
<line x1="95.4" y1="354" x2="116.6" y2="354" stroke="#f01010" stroke-width="2" stroke-dasharray="4.3 2.2"/>
<circle cx="106" cy="354" r="2.3" fill="#f01010"/>
<text transform="translate(118.20,357.40) scale(1,1.06)" font-size="9.5" text-anchor="start" fill="#222">Before Freezing</text>
<line x1="95.4" y1="371.7" x2="116.6" y2="371.7" stroke="#000" stroke-width="2" stroke-dasharray="4.3 2.2"/>
<path d="M106 369.3L108.4 371.7L106 374.1L103.6 371.7Z" fill="#000"/>
<text transform="translate(118.20,375.10) scale(1,1.06)" font-size="9.5" text-anchor="start" fill="#222">After Freezing</text>
<path d="M37.3 218.7V384.3H226.0V218.7" fill="none" stroke="#5c5c5c" stroke-width="1.3"/>
<path d="M36.699999999999996 218.7H226.6" fill="none" stroke="#2e2e2e" stroke-width="1.3"/>
<line x1="324.60" y1="382.60" x2="327.60" y2="382.60" stroke="#5c5c5c" stroke-width="1.1"/>
<text transform="translate(319.30,386.00) scale(1,1.06)" font-size="9.5" text-anchor="end" fill="#222">0.0</text>
<line x1="324.60" y1="341.62" x2="327.60" y2="341.62" stroke="#5c5c5c" stroke-width="1.1"/>
<text transform="translate(319.30,345.02) scale(1,1.06)" font-size="9.5" text-anchor="end" fill="#222">0.4</text>
<line x1="324.60" y1="300.65" x2="327.60" y2="300.65" stroke="#5c5c5c" stroke-width="1.1"/>
<text transform="translate(319.30,304.05) scale(1,1.06)" font-size="9.5" text-anchor="end" fill="#222">0.8</text>
<line x1="324.60" y1="259.68" x2="327.60" y2="259.68" stroke="#5c5c5c" stroke-width="1.1"/>
<text transform="translate(319.30,263.07) scale(1,1.06)" font-size="9.5" text-anchor="end" fill="#222">1.2</text>
<line x1="324.60" y1="218.70" x2="327.60" y2="218.70" stroke="#5c5c5c" stroke-width="1.1"/>
<text transform="translate(319.30,222.10) scale(1,1.06)" font-size="9.5" text-anchor="end" fill="#222">1.6</text>
<line x1="518.80" y1="382.60" x2="521.80" y2="382.60" stroke="#5c5c5c" stroke-width="1.1"/>
<text transform="translate(527.00,386.00) scale(1,1.06)" font-size="9.5" text-anchor="start" fill="#222">0</text>
<line x1="518.80" y1="341.62" x2="521.80" y2="341.62" stroke="#5c5c5c" stroke-width="1.1"/>
<text transform="translate(527.00,345.02) scale(1,1.06)" font-size="9.5" text-anchor="start" fill="#222">2</text>
<line x1="518.80" y1="300.65" x2="521.80" y2="300.65" stroke="#5c5c5c" stroke-width="1.1"/>
<text transform="translate(527.00,304.05) scale(1,1.06)" font-size="9.5" text-anchor="start" fill="#222">4</text>
<line x1="518.80" y1="259.68" x2="521.80" y2="259.68" stroke="#5c5c5c" stroke-width="1.1"/>
<text transform="translate(527.00,263.07) scale(1,1.06)" font-size="9.5" text-anchor="start" fill="#222">6</text>
<line x1="518.80" y1="218.70" x2="521.80" y2="218.70" stroke="#5c5c5c" stroke-width="1.1"/>
<text transform="translate(527.00,222.10) scale(1,1.06)" font-size="9.5" text-anchor="start" fill="#222">8</text>
<line x1="327.60" y1="382.60" x2="327.60" y2="385.60" stroke="#5c5c5c" stroke-width="1.1"/>
<text transform="translate(327.60,397.40) scale(1,1.06)" font-size="9.5" text-anchor="middle" fill="#222">0</text>
<line x1="391.33" y1="382.60" x2="391.33" y2="385.60" stroke="#5c5c5c" stroke-width="1.1"/>
<text transform="translate(391.33,397.40) scale(1,1.06)" font-size="9.5" text-anchor="middle" fill="#222">20</text>
<line x1="455.07" y1="382.60" x2="455.07" y2="385.60" stroke="#5c5c5c" stroke-width="1.1"/>
<text transform="translate(455.07,397.40) scale(1,1.06)" font-size="9.5" text-anchor="middle" fill="#222">40</text>
<line x1="518.80" y1="382.60" x2="518.80" y2="385.60" stroke="#5c5c5c" stroke-width="1.1"/>
<text transform="translate(518.80,397.40) scale(1,1.06)" font-size="9.5" text-anchor="middle" fill="#222">60</text>
<text transform="translate(423.40,410.20) scale(1,1.06)" font-size="9.4" text-anchor="middle" font-weight="bold" fill="#111">Time (days)</text>
<text transform="translate(302.30,301.40) rotate(-90) scale(1,1.06)" font-size="9.4" text-anchor="middle" font-weight="bold" fill="#111">Power (mW)</text>
<text transform="translate(544.30,299.30) rotate(-90) scale(1,1.06)" font-size="9.4" text-anchor="middle" font-weight="bold" fill="#111">COD in rservoir (mg/L)</text>
<text transform="translate(339.60,235.00) scale(1,1.06)" font-size="10.6" text-anchor="start" font-weight="bold" fill="#111">D</text>
<path d="M389.70 229.90L391.40 231.60L389.70 233.30L388.00 231.60Z" fill="#000"/>
<text transform="translate(398.60,235.00) scale(1,1.06)" font-size="9.5" text-anchor="start" fill="#222">Power</text>
<line x1="445.00" y1="231.60" x2="461.00" y2="231.60" stroke="#2b802b" stroke-width="1.5"/>
<path d="M453.2 231.6h0" stroke="#2b802b" stroke-width="4.40" stroke-linecap="round" fill="none"/>
<text transform="translate(462.20,235.00) scale(1,1.06)" font-size="9.5" text-anchor="start" fill="#222">COD</text>
<path d="M327.6 218.7V382.6H518.8V218.7" fill="none" stroke="#5c5c5c" stroke-width="1.3"/>
<path d="M327.0 218.7H519.4" fill="none" stroke="#2e2e2e" stroke-width="1.3"/>
<path d="M362 382.6V378.5M414 378.5V362.3M488.1 362.3V280.4" stroke="#2b802b" stroke-width="1.3" fill="none"/>
<path d="M326.6 382.6H360.9M362.9 378.5H414.1M414.5 362.3H487.6M488.3 280.4H516.4" stroke="#2b802b" stroke-width="4.1" stroke-linecap="round" fill="none"/>
<path d="M327.9 346.9h0M328.1 348.2h0M328.7 347.4h0M329.2 348.2h0M329.4 347.7h0M330.2 347.8h0M330.0 348.6h0M330.0 348.5h0M330.7 349.0h0M330.7 348.9h0M330.6 350.4h0M330.7 351.7h0M331.2 350.9h0M330.9 352.6h0M331.4 352.2h0M331.1 351.7h0M331.6 353.5h0M331.5 353.2h0M331.5 353.8h0M331.7 354.7h0M331.7 354.7h0M331.7 355.8h0M332.2 355.3h0M332.1 356.7h0M331.9 356.2h0M332.3 356.7h0M331.9 357.0h0M332.4 358.1h0M332.0 358.3h0M332.4 359.2h0M332.2 360.4h0M332.6 359.7h0M332.8 359.4h0M333.0 359.9h0M333.5 359.7h0M334.2 358.7h0M334.1 359.3h0M334.4 359.1h0M334.6 360.1h0M334.7 361.5h0M335.3 361.3h0M335.1 362.2h0M335.5 363.0h0M335.8 362.9h0M336.0 364.8h0M335.8 366.5h0M335.9 366.4h0M335.8 368.6h0M336.1 368.9h0M336.0 371.3h0M336.3 372.7h0M336.7 374.0h0M336.4 375.7h0M336.7 376.9h0M337.0 377.2h0M336.7 379.8h0M336.7 377.0h0M336.7 376.7h0M336.9 376.2h0M336.8 373.9h0M337.3 373.1h0M337.4 372.0h0M337.5 371.4h0M337.6 369.4h0M337.3 368.1h0M337.3 367.0h0M337.5 366.9h0M337.4 365.8h0M337.8 365.8h0M337.5 365.4h0M337.6 365.8h0M337.8 365.0h0M337.8 364.0h0M337.6 363.5h0M337.9 362.6h0M337.5 363.4h0M337.5 361.6h0M337.6 361.9h0M337.7 361.0h0M337.7 360.6h0M337.6 360.6h0M337.6 359.5h0M338.1 360.4h0M337.8 359.3h0M337.6 357.8h0M337.9 359.2h0M337.7 357.7h0M338.1 356.4h0M338.0 356.4h0M338.1 357.1h0M338.2 356.5h0M337.8 355.8h0M338.1 354.6h0M337.9 354.5h0M338.1 353.9h0M338.9 353.4h0M339.3 353.1h0M339.7 353.6h0M340.0 353.6h0M340.3 353.3h0M340.9 353.5h0M341.6 354.7h0M341.8 355.0h0M342.0 353.9h0M342.3 355.9h0M342.6 355.2h0M342.6 353.2h0M342.8 353.3h0M342.7 351.8h0M342.7 350.5h0M343.0 351.0h0M342.8 348.6h0M343.1 348.5h0M343.0 347.5h0M342.7 347.4h0M342.7 346.9h0M342.8 344.9h0M342.7 343.9h0M343.1 342.8h0M342.8 341.9h0M342.8 342.0h0M343.0 341.6h0M343.3 340.3h0M343.4 340.4h0M343.1 339.2h0M343.4 337.2h0M343.4 336.1h0M343.4 337.0h0M343.4 335.8h0M343.5 334.4h0M343.2 333.5h0M343.3 333.6h0M343.7 333.0h0M343.4 332.1h0M343.8 329.5h0M343.6 328.8h0M343.3 328.7h0M343.7 327.4h0M344.1 328.0h0M344.2 328.0h0M344.0 328.6h0M344.1 331.4h0M344.1 331.7h0M344.3 332.7h0M344.4 331.9h0M344.2 334.3h0M344.4 335.1h0M344.0 335.9h0M344.2 336.6h0M344.4 336.5h0M344.3 336.7h0M344.6 339.1h0M344.4 339.5h0M344.5 339.9h0M344.2 341.1h0M344.7 342.3h0M344.6 341.7h0M344.3 342.8h0M344.4 344.8h0M344.5 345.0h0M344.4 345.0h0M344.3 347.4h0M344.7 347.5h0M344.6 347.5h0M344.2 347.8h0M344.2 349.0h0M344.8 350.6h0M344.3 350.4h0M344.2 351.0h0M344.3 352.5h0M344.3 353.1h0M344.6 353.7h0M344.3 355.7h0M344.4 356.3h0M344.4 357.2h0M344.3 357.1h0M344.8 358.0h0M344.7 358.6h0M344.4 359.8h0M345.1 358.9h0M345.6 359.4h0M345.5 359.3h0M345.9 357.8h0M345.5 357.7h0M345.8 356.4h0M345.8 355.3h0M345.8 354.9h0M345.9 353.6h0M345.5 353.9h0M345.8 353.0h0M345.9 352.1h0M345.7 351.5h0M345.9 349.8h0M345.6 348.3h0M345.7 348.0h0M345.8 347.8h0M346.2 346.9h0M346.0 345.0h0M346.0 345.2h0M346.1 344.0h0M346.0 343.6h0M346.1 342.6h0M346.2 342.7h0M346.0 341.1h0M346.1 340.4h0M346.3 340.4h0M346.0 339.1h0M345.8 338.7h0M346.2 336.2h0M345.8 337.0h0M346.3 335.7h0M346.1 334.2h0M346.1 334.7h0M346.2 332.2h0M346.0 331.5h0M346.4 332.2h0M346.5 330.5h0M346.1 329.0h0M346.1 328.8h0M346.2 327.9h0M346.4 328.2h0M346.2 327.3h0M346.2 325.4h0M346.5 324.2h0M346.1 325.2h0M346.4 323.3h0M346.6 323.4h0M346.3 322.4h0M346.2 321.8h0M346.4 320.0h0M346.2 318.6h0M346.4 317.9h0M346.6 318.8h0M346.4 317.5h0M346.6 316.5h0M346.7 315.4h0M346.8 313.9h0M346.7 313.9h0M346.4 312.5h0M347.9 312.3h0M347.6 312.8h0M347.8 313.9h0M347.5 315.3h0M347.9 315.8h0M347.8 316.4h0M347.6 317.8h0M347.9 317.0h0M347.9 318.3h0M347.5 320.0h0M347.6 319.9h0M347.6 320.9h0M347.9 322.3h0M348.1 323.3h0M348.0 323.1h0M348.2 323.6h0M347.8 325.1h0M347.8 325.9h0M347.7 326.0h0M347.7 327.2h0M347.8 328.8h0M347.9 328.3h0M348.2 329.2h0M348.2 330.6h0M347.8 331.8h0M348.4 331.8h0M348.1 333.1h0M348.4 334.8h0M347.9 334.4h0M348.3 335.3h0M348.2 336.4h0M347.9 336.1h0M348.5 337.6h0M348.2 338.8h0M348.4 340.2h0M348.0 340.5h0M348.0 341.2h0M348.5 341.8h0M348.3 343.4h0M348.5 344.3h0M348.4 343.9h0M348.5 345.1h0M348.1 345.2h0M348.7 347.0h0M348.2 348.0h0M348.6 347.4h0M348.8 348.5h0M348.5 350.4h0M348.5 350.5h0M348.5 351.8h0M348.8 353.1h0M348.9 353.8h0M348.6 353.7h0M349.3 354.9h0M349.2 355.1h0M349.4 354.1h0M349.6 356.3h0M349.8 356.5h0M350.2 357.0h0M350.1 357.6h0M350.1 357.3h0M350.3 357.5h0M351.0 358.8h0M351.2 358.8h0M351.1 358.4h0M351.3 360.3h0M351.5 360.6h0M351.7 360.9h0M351.8 361.6h0M352.0 360.2h0M352.5 362.0h0M352.8 361.7h0M353.1 361.6h0M353.1 362.2h0M353.2 362.1h0M353.5 363.5h0M353.9 363.5h0M354.2 363.9h0M354.7 363.0h0M355.0 364.5h0M355.3 363.7h0M355.9 362.5h0M355.8 363.0h0M356.6 362.8h0M356.8 362.3h0M357.2 363.0h0M357.3 362.2h0M357.7 362.3h0M358.1 361.9h0M358.5 361.3h0M359.0 361.7h0M359.3 360.5h0M359.7 359.7h0M360.2 359.5h0M359.9 358.8h0M360.5 359.8h0M360.6 359.5h0M360.6 359.0h0M361.2 357.2h0M361.0 357.2h0M361.4 357.0h0M361.8 356.1h0M361.6 355.5h0M361.6 354.9h0M361.9 353.7h0M361.6 353.8h0M361.6 353.3h0M362.0 351.2h0M361.7 351.6h0M361.7 350.6h0M362.1 349.7h0M361.9 349.0h0M362.0 347.9h0M362.4 347.1h0M362.0 345.6h0M362.2 345.9h0M362.5 344.2h0M362.4 343.3h0M362.3 342.5h0M362.7 341.8h0M362.3 341.4h0M362.3 339.6h0M362.5 340.2h0M362.5 338.3h0M362.5 338.2h0M362.5 337.2h0M362.7 335.4h0M362.6 336.2h0M362.6 335.2h0M362.5 333.9h0M362.8 333.4h0M362.6 331.5h0M362.8 332.3h0M362.9 331.4h0M363.0 330.8h0M362.8 329.8h0M362.9 327.7h0M363.1 327.3h0M363.4 327.5h0M363.3 325.3h0M363.0 324.9h0M364.5 324.4h0M364.4 325.3h0M364.5 325.8h0M364.5 328.3h0M364.9 328.5h0M364.9 329.9h0M364.4 328.9h0M364.6 330.7h0M365.0 330.5h0M364.9 332.8h0M364.6 333.6h0M365.0 333.0h0M364.9 334.6h0M365.0 334.8h0M364.9 335.3h0M364.5 336.9h0M364.7 337.7h0M364.7 339.7h0M364.8 339.5h0M364.8 341.1h0M364.7 342.0h0M364.7 342.7h0M364.9 342.9h0M364.8 344.1h0M364.8 344.9h0M365.1 345.9h0M365.3 346.5h0M364.8 347.4h0M364.8 348.2h0M365.3 347.6h0M364.8 349.8h0M365.0 350.3h0M365.3 351.6h0M365.1 352.2h0M365.3 352.9h0M365.0 354.0h0M365.1 354.8h0M365.1 354.8h0M364.9 354.8h0M365.4 356.3h0M365.3 357.1h0M365.3 358.0h0M365.0 356.8h0M365.3 355.7h0M365.6 354.7h0M365.4 355.5h0M365.5 353.3h0M365.2 353.6h0M365.4 351.6h0M365.2 351.9h0M365.2 350.4h0M365.8 349.5h0M365.8 348.3h0M365.4 347.5h0M365.8 347.7h0M365.8 347.4h0M365.8 345.2h0M365.7 344.3h0M365.9 344.2h0M365.8 344.4h0M366.1 343.0h0M365.8 342.7h0M366.1 340.6h0M365.9 341.3h0M366.3 340.4h0M366.0 338.1h0M366.3 337.4h0M366.1 337.0h0M366.3 336.1h0M366.1 336.3h0M366.3 335.8h0M366.0 333.3h0M367.7 334.0h0M367.9 334.7h0M367.4 335.6h0M367.6 337.0h0M368.0 337.9h0M367.6 338.1h0M367.7 339.8h0M367.7 339.9h0M368.1 339.8h0M368.1 340.4h0M367.8 341.6h0M367.9 342.7h0M368.3 344.5h0M368.1 344.4h0M368.4 344.8h0M368.2 345.7h0M368.6 346.5h0M368.6 346.9h0M368.4 348.0h0M368.4 348.5h0M368.5 350.6h0M368.8 350.5h0M368.6 348.6h0M368.6 348.5h0M368.6 348.6h0M368.9 346.6h0M369.0 346.9h0M368.8 346.2h0M369.2 347.1h0M369.2 345.1h0M368.9 344.7h0M369.4 345.3h0M369.8 345.3h0M370.0 347.0h0M370.8 346.9h0M371.1 346.9h0M371.3 347.0h0M371.6 348.1h0M372.0 348.4h0M372.3 347.8h0M372.8 348.6h0M372.8 346.9h0M373.1 346.8h0M373.6 346.5h0M373.9 346.5h0M374.3 347.5h0M374.7 345.4h0M375.6 345.9h0M375.6 345.3h0M375.3 344.3h0M376.1 343.8h0M375.9 343.8h0M376.2 343.6h0M376.5 342.8h0M376.5 343.9h0M376.7 343.4h0M376.6 342.8h0M376.9 342.6h0M377.3 341.5h0M377.4 341.8h0M377.4 343.4h0M377.3 342.4h0M377.9 343.1h0M378.0 344.1h0M377.7 345.4h0M378.0 344.6h0M378.4 346.5h0M378.2 346.9h0M378.2 347.0h0M378.7 346.3h0M378.7 346.9h0M379.0 347.5h0M379.0 348.4h0M379.0 346.8h0M379.2 347.9h0M379.2 346.3h0M379.7 345.6h0M379.8 345.5h0M379.5 345.9h0M380.0 344.9h0M379.8 343.8h0M379.7 344.5h0M380.3 343.3h0M380.2 343.7h0M380.5 343.1h0M380.7 341.8h0M380.8 342.1h0M380.6 341.8h0M380.7 340.8h0M381.1 341.2h0M381.1 340.7h0M381.7 339.8h0M381.7 340.7h0M382.2 339.6h0M382.8 339.7h0M383.3 339.1h0M383.2 340.3h0M383.4 341.7h0M383.5 340.5h0M383.4 341.8h0M383.4 343.0h0M383.7 342.5h0M383.7 343.3h0M384.1 342.8h0M384.1 343.7h0M383.9 344.3h0M384.3 345.2h0M384.7 345.8h0M384.7 346.3h0M384.7 347.1h0M384.9 347.3h0M384.7 346.8h0M385.1 346.7h0M384.9 348.8h0M385.1 348.5h0M385.3 349.3h0M385.8 348.5h0M385.7 350.6h0M385.9 351.2h0M386.0 350.7h0M386.1 351.9h0M386.5 352.2h0M386.8 351.5h0M387.1 351.6h0M387.3 353.5h0M387.1 353.5h0M387.3 353.7h0M387.9 354.1h0M387.7 352.8h0M387.4 353.3h0M387.7 353.7h0M387.9 353.2h0M387.9 352.8h0M387.8 350.6h0M388.1 351.4h0M387.9 350.1h0M388.1 351.0h0M388.3 349.6h0M388.3 349.0h0M388.2 348.2h0M388.4 347.4h0M388.4 347.1h0M388.2 348.0h0M388.7 347.1h0M388.8 347.0h0M388.6 346.4h0M388.4 344.9h0M388.9 345.0h0M389.0 344.3h0M388.7 343.8h0M389.1 344.0h0M388.8 342.6h0M389.0 342.1h0M389.3 341.9h0M389.3 342.9h0M389.0 341.8h0M389.3 341.1h0M389.2 341.6h0M389.2 340.5h0M389.1 340.0h0M389.7 339.2h0M389.6 338.6h0M389.5 338.3h0M389.8 337.8h0M389.5 338.6h0M389.9 339.2h0M390.0 339.0h0M390.3 339.4h0M390.2 339.7h0M390.2 340.2h0M390.7 341.0h0M390.7 341.1h0M390.7 342.5h0M391.3 341.8h0M391.2 343.9h0M391.3 344.2h0M391.2 344.4h0M391.3 343.8h0M391.4 343.8h0M392.0 344.9h0M391.9 346.1h0M392.0 346.8h0M392.2 346.7h0M392.9 345.4h0M393.2 345.7h0M393.5 344.2h0M393.4 343.9h0M393.7 344.0h0M394.2 343.2h0M394.3 342.7h0M394.5 341.9h0M394.9 342.7h0M395.2 342.8h0M395.3 342.1h0M395.6 342.8h0M395.3 343.5h0M395.8 343.4h0M395.6 343.5h0M396.0 344.6h0M396.2 344.6h0M396.3 345.0h0M396.2 345.4h0M396.6 347.1h0M396.6 347.7h0M396.9 348.2h0M397.0 347.8h0M397.0 349.0h0M397.1 348.3h0M397.6 350.2h0M397.6 350.4h0M397.3 350.7h0M398.0 349.6h0M398.2 350.1h0M399.0 350.0h0M398.9 349.4h0M399.4 348.5h0M399.7 349.0h0M400.2 348.2h0M400.7 349.1h0M401.0 348.3h0M401.3 349.1h0M401.5 348.4h0M401.7 348.6h0M401.6 350.3h0M401.9 350.0h0M401.9 351.2h0M401.7 351.7h0M402.3 350.9h0M402.1 352.0h0M402.6 353.5h0M402.2 352.8h0M402.3 352.5h0M402.5 354.7h0M403.0 353.7h0M403.0 355.0h0M403.0 355.9h0M402.9 355.2h0M403.0 356.9h0M403.6 356.4h0M403.3 357.7h0M403.8 358.2h0M404.0 358.2h0M403.9 358.9h0M403.8 359.4h0M404.0 359.1h0M404.4 357.8h0M404.2 358.9h0M404.4 358.7h0M404.6 356.9h0M404.6 356.7h0M404.8 356.9h0M404.8 355.2h0M405.2 355.0h0M405.1 355.8h0M405.1 353.8h0M405.3 353.4h0M405.2 353.2h0M405.3 353.5h0M405.7 352.8h0M405.9 351.6h0M405.7 351.6h0M405.9 351.9h0M405.9 351.0h0M406.0 350.3h0M405.9 350.7h0M406.3 349.9h0M406.9 349.7h0M407.6 350.3h0M408.1 349.8h0M408.2 348.4h0M408.6 350.0h0M409.1 348.9h0M409.6 348.8h0M410.0 348.7h0M410.7 349.0h0M410.9 348.3h0M411.4 349.0h0M412.3 349.9h0M412.6 349.3h0M413.4 349.2h0M413.7 348.2h0M414.2 349.1h0M414.4 348.8h0M414.8 347.4h0M415.3 348.1h0M415.8 347.3h0M416.6 347.9h0M416.6 346.5h0M417.3 347.9h0M417.7 347.8h0M418.1 348.2h0M418.0 348.1h0M418.5 348.6h0M418.7 349.1h0M419.3 348.7h0M419.6 349.2h0M420.0 349.8h0M420.5 350.1h0M420.0 348.9h0M420.5 348.5h0M420.7 348.8h0M420.6 348.2h0M421.0 348.0h0M420.8 347.4h0M421.0 347.0h0M421.2 346.4h0M421.1 345.4h0M421.3 345.1h0M421.2 344.6h0M421.4 345.6h0M421.7 343.9h0M421.7 343.8h0M421.6 344.1h0M422.0 344.0h0M422.2 342.0h0M422.5 341.3h0M422.3 341.7h0M422.7 342.0h0M423.4 342.4h0M423.5 342.7h0M423.8 342.9h0M424.1 343.7h0M424.5 344.6h0M424.4 343.1h0M424.8 343.7h0M424.7 342.6h0M425.0 341.9h0M425.4 341.8h0M425.4 341.6h0M425.7 340.0h0M425.6 339.5h0M426.1 340.4h0M425.8 339.4h0M425.8 337.9h0M426.2 338.4h0M426.2 337.7h0M426.3 337.2h0M426.3 337.9h0M426.2 336.7h0M426.4 335.8h0M426.4 334.9h0M426.8 334.3h0M426.7 335.0h0M426.9 333.5h0M426.9 333.5h0M427.2 334.2h0M427.2 333.6h0M427.2 333.5h0M427.4 332.9h0M427.2 333.0h0M427.7 333.4h0M427.9 332.9h0M427.6 334.1h0M427.8 335.3h0M428.3 334.8h0M428.4 335.6h0M428.6 335.9h0M428.3 337.2h0M428.5 335.9h0M428.9 337.5h0M429.1 337.1h0M429.3 338.8h0M429.3 336.8h0M429.7 337.1h0M429.5 336.6h0M430.3 336.2h0M430.2 337.0h0M430.6 335.6h0M430.7 335.6h0M431.0 335.5h0M431.4 334.8h0M431.9 336.4h0M432.0 335.4h0M432.3 337.2h0M432.5 336.4h0M433.1 337.6h0M433.4 336.4h0M433.6 335.7h0M433.4 336.1h0M433.7 336.1h0M434.0 334.6h0M434.5 333.5h0M434.8 333.6h0M434.5 333.2h0M434.8 332.6h0M435.0 332.3h0M434.9 332.3h0M434.9 329.6h0M435.0 328.4h0M435.4 327.8h0M434.9 327.9h0M435.1 325.9h0M435.2 325.2h0M435.0 324.9h0M435.1 323.7h0M435.3 324.0h0M435.4 322.3h0M435.3 321.1h0M435.3 321.0h0M435.7 320.1h0M435.4 318.9h0M435.4 318.2h0M435.8 316.0h0M435.3 316.7h0M435.6 315.4h0M435.8 314.5h0M435.4 312.5h0M435.6 312.8h0M435.8 310.6h0M435.5 310.9h0M436.0 308.4h0M435.7 307.7h0M435.8 306.6h0M435.8 306.0h0M435.6 306.6h0M435.7 305.6h0M436.1 303.6h0M435.9 302.7h0M435.8 302.2h0M435.8 301.3h0M436.0 299.6h0M436.3 298.9h0M436.2 298.8h0M436.3 297.6h0M436.1 296.4h0M436.3 294.8h0M436.3 295.4h0M436.2 293.8h0M436.4 293.5h0M436.2 292.2h0M436.8 292.2h0M436.4 293.9h0M436.5 294.1h0M436.3 295.1h0M436.6 296.4h0M436.5 295.5h0M436.5 297.3h0M436.7 297.9h0M436.8 299.9h0M436.4 301.1h0M436.4 300.5h0M436.4 302.5h0M436.9 302.3h0M436.7 304.6h0M436.8 304.1h0M436.6 306.3h0M436.9 306.4h0M436.7 306.4h0M436.6 308.8h0M436.4 308.5h0M436.7 309.0h0M436.5 311.4h0M436.5 311.8h0M437.0 312.8h0M436.8 312.7h0M436.7 314.6h0M436.7 315.4h0M436.5 316.5h0M436.6 317.6h0M436.6 318.9h0M436.7 319.7h0M436.7 319.5h0M436.7 320.4h0M436.8 321.4h0M436.6 323.6h0M437.0 323.5h0M436.8 325.0h0M436.8 325.1h0M436.8 326.8h0M436.5 326.9h0M436.5 328.1h0M436.5 328.8h0M436.6 329.5h0M437.1 330.2h0M436.7 332.2h0M436.6 332.0h0M436.7 333.6h0M436.6 333.8h0M436.5 334.7h0M436.7 336.3h0M436.7 337.1h0M437.0 337.5h0M437.0 339.3h0M437.1 340.2h0M436.9 340.9h0M436.8 342.3h0M436.7 342.1h0M436.6 343.3h0M437.1 344.5h0M436.6 345.9h0M436.6 345.4h0M436.8 345.9h0M437.0 348.2h0M437.1 349.0h0M436.8 349.1h0M436.8 350.8h0M437.1 350.8h0M436.9 352.6h0M436.7 353.6h0M436.8 353.8h0M436.7 355.9h0M436.7 354.2h0M437.1 354.1h0M436.9 353.7h0M437.1 353.3h0M437.1 352.1h0M437.3 352.0h0M437.5 351.5h0M437.6 350.9h0M437.5 351.9h0M437.3 351.1h0M437.5 349.1h0M437.6 349.4h0M437.4 349.8h0M437.8 349.6h0M437.5 348.0h0M437.8 347.5h0M437.6 347.1h0M437.8 346.9h0M437.9 346.3h0M438.0 346.4h0M437.9 345.6h0M438.3 345.7h0M438.3 345.6h0M438.2 344.9h0M438.4 343.5h0M438.5 343.3h0M438.4 342.2h0M438.6 342.1h0M438.5 342.1h0M438.7 342.5h0M438.8 341.5h0M438.5 340.8h0M438.8 339.9h0M439.0 339.4h0M438.8 340.3h0M438.7 338.7h0M439.2 339.3h0M439.0 338.4h0M439.1 336.7h0M439.3 337.9h0M439.5 336.1h0M439.5 336.9h0M439.9 336.5h0M439.5 335.8h0M439.9 334.2h0M440.2 333.7h0M440.2 334.0h0M440.5 333.3h0M440.7 333.3h0M440.7 332.3h0M441.0 331.4h0M441.3 332.8h0M441.3 332.3h0M441.5 331.0h0M442.0 330.5h0M442.0 331.0h0M442.0 329.6h0M442.4 329.3h0M442.7 329.3h0M442.8 329.3h0M443.4 328.5h0M443.4 328.1h0M443.3 327.3h0M443.8 327.1h0M444.2 327.6h0M444.6 327.4h0M444.5 328.5h0M444.6 328.2h0M445.2 328.9h0M445.1 330.1h0M445.8 330.3h0M445.9 330.1h0M446.3 331.5h0M446.4 331.4h0M446.3 331.7h0M446.6 332.4h0M446.6 332.0h0M447.1 332.3h0M447.1 333.5h0M447.4 334.5h0M448.0 334.4h0M448.0 334.5h0M448.2 334.9h0M448.7 334.8h0M448.6 334.3h0M449.3 333.2h0M449.7 334.3h0M449.8 333.0h0M450.0 332.8h0M450.4 333.8h0M450.5 333.7h0M450.6 333.7h0M450.7 335.2h0M450.7 336.1h0M450.9 335.6h0M451.2 336.2h0M451.4 336.7h0M451.4 337.8h0M452.1 338.1h0M452.2 337.1h0M452.3 338.4h0M452.6 338.6h0M452.8 338.7h0M452.6 338.0h0M453.5 338.0h0M453.4 337.3h0M454.2 338.2h0M454.2 336.3h0M454.7 335.9h0M455.0 336.3h0M455.1 335.1h0M455.4 336.4h0M455.4 336.0h0M455.4 334.4h0M455.6 333.7h0M456.1 333.9h0M455.6 333.7h0M455.8 332.7h0M456.3 332.2h0M456.1 332.9h0M456.2 332.6h0M456.2 330.4h0M456.9 331.0h0M456.8 331.0h0M456.7 330.7h0M456.8 330.2h0M457.1 329.8h0M457.5 329.2h0M457.2 329.0h0M457.8 329.4h0M457.5 329.8h0M457.6 329.5h0M458.1 329.8h0M458.1 330.8h0M458.5 331.4h0M458.5 332.3h0M458.5 332.5h0M458.7 332.7h0M459.2 334.3h0M459.5 334.4h0M459.1 334.1h0M459.5 334.4h0M459.7 335.5h0M459.6 334.9h0M459.8 334.7h0M460.5 334.1h0M460.6 334.3h0M460.8 332.5h0M460.8 332.5h0M461.0 331.9h0M460.8 331.3h0M461.0 332.0h0M461.7 329.9h0M461.7 331.1h0M461.9 330.3h0M462.0 329.3h0M462.1 328.3h0M462.3 329.0h0M462.7 329.7h0M462.8 331.4h0M463.0 330.6h0M463.6 331.0h0M463.4 331.9h0M463.9 332.8h0M464.1 332.3h0M464.4 332.4h0M464.4 330.8h0M465.0 330.8h0M465.4 331.4h0M465.3 329.5h0M465.4 329.0h0M465.8 329.6h0M466.1 328.8h0M466.4 329.3h0M466.6 329.0h0M467.0 329.3h0M466.8 330.5h0M467.1 329.8h0M467.5 331.1h0M468.0 330.8h0M468.5 331.9h0M468.8 330.8h0M469.0 331.5h0M469.8 331.3h0M470.1 331.2h0M470.4 329.7h0M471.3 331.0h0M471.2 330.5h0M471.6 331.4h0M472.2 331.7h0M472.4 331.0h0M472.7 333.1h0M473.3 332.8h0M473.7 332.1h0M473.8 331.4h0M474.3 330.7h0M474.8 331.0h0M475.2 330.9h0M475.8 330.8h0M476.2 330.6h0M476.2 330.0h0M476.7 329.1h0M477.1 330.4h0M477.4 329.5h0M477.6 328.6h0M477.4 329.8h0M477.3 330.2h0M477.2 331.3h0M477.3 331.1h0M477.4 332.8h0M477.5 332.4h0M477.4 332.3h0M477.7 332.2h0M478.1 333.9h0M477.6 334.0h0M477.7 334.4h0M478.2 334.4h0M478.3 335.4h0M478.2 336.9h0M478.0 336.8h0M478.5 336.8h0M478.1 337.8h0M478.3 336.8h0M478.6 337.5h0M478.6 338.0h0M478.5 339.1h0M478.4 339.7h0M478.9 339.6h0M478.7 341.3h0M478.5 341.7h0M479.0 341.7h0M478.5 341.4h0M478.7 342.4h0M478.7 343.7h0M479.2 342.4h0M479.1 343.6h0M479.0 344.1h0M479.0 344.7h0M479.1 344.8h0M479.0 345.4h0M479.0 346.4h0M479.2 347.0h0M479.3 347.3h0M479.1 347.3h0M479.5 348.3h0M480.5 348.3h0M480.7 347.9h0M481.1 349.0h0M481.5 348.5h0M481.7 347.7h0M482.4 348.8h0M482.7 347.9h0M483.1 347.0h0M483.5 348.0h0M484.0 347.4h0M484.5 347.4h0M484.9 347.3h0M485.4 346.9h0M485.6 347.2h0M485.9 346.1h0M486.0 346.1h0M486.7 346.4h0M486.5 344.6h0M487.1 345.2h0M487.2 343.7h0M487.5 343.9h0M487.6 344.0h0M487.6 343.0h0M487.8 341.8h0M488.0 343.0h0M488.1 342.0h0M488.3 341.6h0M488.1 341.5h0M488.6 339.9h0M488.6 339.2h0M488.5 339.3h0M488.8 339.7h0M489.1 339.2h0M488.9 337.9h0M488.8 337.9h0M489.1 337.5h0M489.2 337.2h0M489.5 336.3h0M489.4 336.4h0M489.3 335.8h0M489.4 334.7h0M489.7 334.7h0M489.7 335.0h0M489.8 334.4h0M490.1 332.7h0M490.0 333.3h0M490.2 332.7h0M490.5 331.3h0M490.2 332.5h0M490.3 331.3h0M490.4 329.9h0M490.8 330.7h0M490.6 329.0h0M491.0 328.9h0M491.1 328.4h0M491.3 327.7h0M491.0 327.4h0M491.2 328.1h0M491.0 327.2h0M491.5 326.4h0M491.5 326.6h0M491.3 326.5h0M491.6 325.2h0M491.3 324.1h0M491.8 324.5h0M491.6 323.8h0M491.4 322.9h0M491.5 323.8h0M492.1 322.4h0M491.9 322.3h0M492.2 322.7h0M491.7 322.1h0M492.1 320.5h0M492.3 319.4h0M492.3 320.7h0M491.9 319.0h0M492.5 319.9h0M492.4 319.5h0M492.1 317.9h0M492.6 316.7h0M492.4 316.5h0M492.6 317.7h0M492.6 317.0h0M492.4 315.7h0M493.0 316.3h0M492.6 314.3h0M492.7 315.4h0M492.7 313.6h0M492.8 313.5h0M493.2 313.2h0M493.2 312.7h0M493.3 312.0h0M493.2 311.5h0M493.2 310.7h0M493.5 310.6h0M493.6 310.8h0M493.2 310.8h0M493.7 309.7h0M493.4 309.8h0M493.4 309.5h0M493.8 307.3h0M493.6 308.7h0M493.9 306.7h0M493.7 307.6h0M493.5 305.7h0M494.0 305.7h0M494.0 305.3h0M494.0 305.3h0M494.2 303.8h0M494.2 305.0h0M494.4 302.8h0M494.2 302.6h0M494.6 302.3h0M494.6 302.1h0M494.6 301.0h0M494.5 301.6h0M494.4 300.5h0M494.7 299.6h0M494.8 300.8h0M494.9 299.8h0M494.7 299.0h0M494.7 298.2h0M494.9 297.3h0M494.7 298.1h0M495.3 297.7h0M494.9 296.1h0M495.0 296.6h0M495.4 295.9h0M495.1 296.4h0M495.6 294.4h0M495.7 295.5h0M495.5 294.3h0M495.6 293.5h0M496.0 294.3h0M496.6 292.5h0M496.9 291.8h0M496.8 292.0h0M497.6 292.7h0M497.6 291.0h0M498.0 290.8h0M498.5 290.6h0M498.5 289.8h0M499.0 289.0h0M499.1 288.9h0M499.4 288.2h0M500.0 289.7h0M500.2 290.6h0M500.6 290.0h0M501.1 290.6h0M501.6 289.7h0M501.5 290.0h0M501.9 290.9h0M502.5 292.0h0M503.0 292.0h0M503.2 292.0h0M503.4 291.8h0M503.8 291.9h0M504.3 292.4h0M504.9 292.9h0M504.8 292.3h0M504.6 292.2h0M504.9 292.8h0M504.8 290.4h0M504.8 291.6h0M504.9 291.3h0M505.0 290.8h0M505.2 290.3h0M505.4 288.8h0M505.2 288.4h0M505.6 289.0h0M505.7 288.4h0M505.8 287.5h0M505.9 286.0h0M506.0 286.7h0M506.0 285.2h0M505.9 285.2h0M506.5 284.9h0M506.2 284.4h0M506.6 284.7h0M506.3 283.5h0M506.3 282.7h0M506.6 282.0h0M506.5 282.8h0M506.6 282.2h0M506.6 280.6h0M506.7 281.4h0M506.6 279.8h0M507.0 279.8h0M507.2 279.0h0M506.8 279.4h0M507.0 278.6h0M506.9 278.9h0M507.3 277.1h0M507.1 276.4h0M507.6 276.0h0M507.3 275.7h0M507.4 276.0h0M507.3 275.5h0M507.6 274.3h0M507.8 274.2h0M507.6 274.9h0M507.5 272.5h0M507.5 272.2h0M507.5 273.4h0M507.8 271.5h0M507.7 271.4h0M507.6 270.7h0M507.6 271.6h0M507.9 270.3h0M508.2 270.0h0M508.0 269.8h0M508.1 268.6h0M508.3 267.6h0M508.2 267.3h0M508.7 267.5h0M509.2 268.0h0M509.8 268.1h0M509.6 269.2h0M509.9 269.9h0M510.2 268.9h0M510.3 269.4h0M510.6 271.0h0M510.6 271.0h0M510.4 271.4h0M510.7 271.6h0M511.2 272.2h0M511.1 272.6h0M511.4 272.8h0M511.8 273.3h0M511.7 274.3h0M512.0 274.0h0M512.6 274.3h0M512.6 274.6h0M512.5 275.8h0M512.9 275.5h0M512.9 276.7h0M513.2 278.4h0M513.1 278.3h0M512.8 278.4h0M513.4 279.5h0M513.3 279.8h0M513.6 279.9h0M513.2 280.5h0M513.3 281.4h0M513.3 281.8h0M513.6 281.8h0M513.4 281.9h0M513.7 283.4h0M513.9 283.4h0M514.1 283.2h0M514.0 283.9h0M513.9 283.9h0M513.9 283.9h0M514.3 284.7h0M514.3 285.3h0M514.1 285.2h0M514.3 286.0h0M514.3 287.5h0M514.7 286.6h0M514.6 288.7h0M514.8 289.0h0M514.8 288.8h0M514.5 288.7h0M515.0 289.5h0M514.9 290.6h0M514.9 290.2h0M514.9 292.0h0M515.1 292.1h0M515.3 291.7h0M515.2 292.5h0M515.3 293.1h0M515.2 293.3h0M515.6 293.4h0M515.5 294.8h0M515.7 294.9h0M515.5 295.6h0M515.9 294.9h0M515.7 296.9h0M515.9 297.2h0M515.8 297.8h0M516.2 296.9h0M516.4 298.0h0M516.2 299.4h0M516.1 298.5h0M516.7 300.1h0M516.4 300.7h0M516.7 300.2h0" stroke="#000" stroke-width="3.80" stroke-linecap="round" fill="none"/>
</svg>
</body></html>
